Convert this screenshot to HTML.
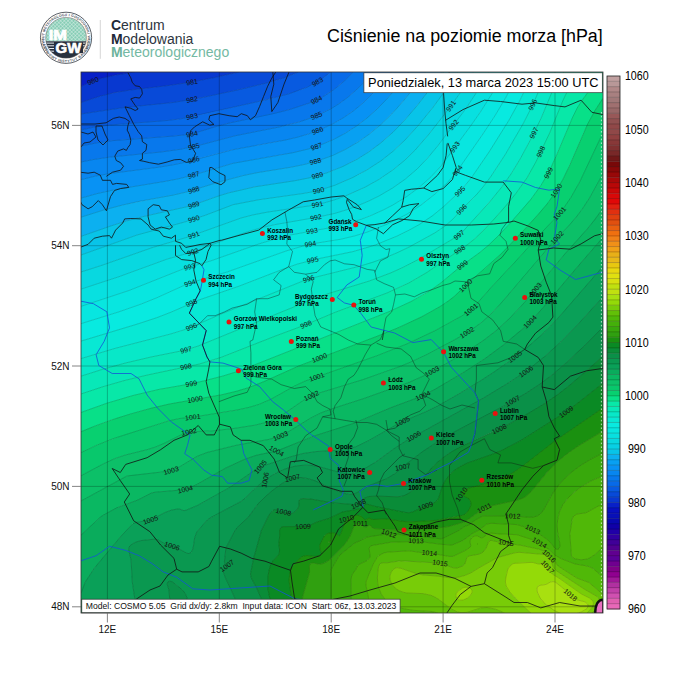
<!DOCTYPE html>
<html><head><meta charset="utf-8"><style>
html,body{margin:0;padding:0;background:#fff;width:689px;height:689px;overflow:hidden}
svg{position:absolute;left:0;top:0;font-family:"Liberation Sans",sans-serif}
</style></head><body>
<svg width="689" height="689" viewBox="0 0 689 689">
<defs><clipPath id="mc"><rect x="81" y="72" width="522" height="541"/></clipPath></defs>
<defs><clipPath id="lc"><circle cx="66.05" cy="37.8" r="20.4"/></clipPath><pattern id="hatch" width="2.6" height="2.6" patternUnits="userSpaceOnUse" patternTransform="rotate(45)"><rect width="2.6" height="2.6" fill="#86cdb5"/><path d="M0 0H2.6M0 0V2.6" stroke="#e4f3ee" stroke-width="0.8"/></pattern></defs><circle cx="66.05" cy="37.8" r="25.6" fill="#fff" stroke="#4a4f57" stroke-width="0.9"/><g font-size="3.6" font-weight="700" fill="#555c66" text-anchor="middle"><text transform="translate(47.46 51.34) rotate(-126.1)" y="1.3">I</text><text transform="translate(46.31 49.60) rotate(-120.9)" y="1.3">N</text><text transform="translate(45.03 47.14) rotate(-113.9)" y="1.3">S</text><text transform="translate(44.12 44.72) rotate(-107.5)" y="1.3">T</text><text transform="translate(43.48 42.22) rotate(-101.1)" y="1.3">Y</text><text transform="translate(43.13 39.67) rotate(-94.7)" y="1.3">T</text><text transform="translate(43.06 36.99) rotate(-88.0)" y="1.3">U</text><text transform="translate(43.31 34.33) rotate(-81.3)" y="1.3">T</text><text transform="translate(44.31 30.29) rotate(-71.0)" y="1.3">M</text><text transform="translate(45.46 27.55) rotate(-63.5)" y="1.3">E</text><text transform="translate(46.74 25.31) rotate(-57.1)" y="1.3">T</text><text transform="translate(48.26 23.23) rotate(-50.7)" y="1.3">E</text><text transform="translate(50.22 21.12) rotate(-43.5)" y="1.3">O</text><text transform="translate(52.51 19.21) rotate(-36.1)" y="1.3">R</text><text transform="translate(55.02 17.62) rotate(-28.7)" y="1.3">O</text><text transform="translate(57.53 16.43) rotate(-21.7)" y="1.3">L</text><text transform="translate(60.17 15.56) rotate(-14.8)" y="1.3">O</text><text transform="translate(63.19 14.98) rotate(-7.1)" y="1.3">G</text><text transform="translate(65.37 14.81) rotate(-1.7)" y="1.3">I</text><text transform="translate(66.65 14.81) rotate(1.5)" y="1.3">I</text><text transform="translate(69.20 15.02) rotate(7.9)" y="1.3">I</text><text transform="translate(72.58 15.75) rotate(16.5)" y="1.3">G</text><text transform="translate(75.46 16.81) rotate(24.2)" y="1.3">O</text><text transform="translate(78.01 18.15) rotate(31.3)" y="1.3">S</text><text transform="translate(80.21 19.68) rotate(38.0)" y="1.3">P</text><text transform="translate(82.37 21.59) rotate(45.2)" y="1.3">O</text><text transform="translate(84.32 23.83) rotate(52.6)" y="1.3">D</text><text transform="translate(85.93 26.23) rotate(59.8)" y="1.3">A</text><text transform="translate(87.22 28.80) rotate(67.0)" y="1.3">R</text><text transform="translate(88.17 31.51) rotate(74.1)" y="1.3">K</text><text transform="translate(88.65 33.54) rotate(79.3)" y="1.3">I</text><text transform="translate(89.04 37.27) rotate(88.7)" y="1.3">W</text><text transform="translate(88.87 40.64) rotate(97.1)" y="1.3">O</text><text transform="translate(88.32 43.57) rotate(104.5)" y="1.3">D</text><text transform="translate(87.42 46.30) rotate(111.7)" y="1.3">N</text><text transform="translate(86.24 48.82) rotate(118.6)" y="1.3">E</text><text transform="translate(84.93 50.93) rotate(124.8)" y="1.3">J</text></g><g font-size="3.6" font-weight="700" fill="#555c66" text-anchor="middle"><text transform="translate(42.82 39.56) rotate(85.7)" y="1.3">P</text><text transform="translate(43.19 42.31) rotate(78.8)" y="1.3">A</text><text transform="translate(43.92 45.10) rotate(71.7)" y="1.3">Ń</text><text transform="translate(44.95 47.68) rotate(64.9)" y="1.3">S</text><text transform="translate(46.17 49.95) rotate(58.6)" y="1.3">T</text><text transform="translate(47.94 52.46) rotate(51.0)" y="1.3">W</text><text transform="translate(50.25 54.93) rotate(42.7)" y="1.3">O</text><text transform="translate(52.89 57.03) rotate(34.4)" y="1.3">W</text><text transform="translate(55.63 58.64) rotate(26.6)" y="1.3">Y</text><text transform="translate(58.64 59.89) rotate(18.5)" y="1.3">I</text><text transform="translate(60.64 60.46) rotate(13.4)" y="1.3">N</text><text transform="translate(63.38 60.95) rotate(6.6)" y="1.3">S</text><text transform="translate(65.95 61.10) rotate(0.2)" y="1.3">T</text><text transform="translate(68.53 60.97) rotate(-6.1)" y="1.3">Y</text><text transform="translate(71.07 60.55) rotate(-12.4)" y="1.3">T</text><text transform="translate(73.65 59.83) rotate(-19.0)" y="1.3">U</text><text transform="translate(76.13 58.81) rotate(-25.6)" y="1.3">T</text><text transform="translate(79.53 56.80) rotate(-35.4)" y="1.3">B</text><text transform="translate(81.77 54.99) rotate(-42.4)" y="1.3">A</text><text transform="translate(83.77 52.92) rotate(-49.5)" y="1.3">D</text><text transform="translate(85.50 50.62) rotate(-56.6)" y="1.3">A</text><text transform="translate(87.11 47.77) rotate(-64.7)" y="1.3">W</text><text transform="translate(88.30 44.72) rotate(-72.7)" y="1.3">C</text><text transform="translate(88.95 42.12) rotate(-79.3)" y="1.3">Z</text><text transform="translate(89.28 39.56) rotate(-85.7)" y="1.3">Y</text></g><g clip-path="url(#lc)"><rect x="45.65" y="17.4" width="40.8" height="23.9" fill="url(#hatch)"/><rect x="45.65" y="41.3" width="40.8" height="16.9" fill="#27303d"/><rect x="45.65" y="42.6" width="40.8" height="1.0" fill="#e6ecef"/><rect x="45.65" y="45.3" width="40.8" height="1.0" fill="#e6ecef"/><rect x="45.65" y="48.0" width="40.8" height="1.0" fill="#e6ecef"/><rect x="45.65" y="50.7" width="40.8" height="1.0" fill="#e6ecef"/></g><circle cx="66.05" cy="37.8" r="20.4" fill="none" stroke="#555" stroke-width="0.5"/><text x="48.8" y="39.9" font-size="14.6" font-weight="700" fill="#fff" stroke="#fff" stroke-width="0.7" textLength="18.2" lengthAdjust="spacingAndGlyphs">IM</text><rect x="54" y="42" width="29" height="11.2" fill="#27303d"/><text x="55.6" y="53.2" font-size="14.6" font-weight="700" fill="#fff" stroke="#fff" stroke-width="0.7" textLength="25.6" lengthAdjust="spacingAndGlyphs">GW</text>
<path d="M100.3 20V58.8" stroke="#ccc" stroke-width="0.8"/><text x="110.9" y="30.3" font-size="14" fill="#2d3540"><tspan font-weight="700" fill="#1f2a38">C</tspan>entrum</text><text x="110.9" y="43.5" font-size="14" fill="#2d3540"><tspan font-weight="700" fill="#1f2a38">M</tspan>odelowania</text><text x="110.9" y="56.7" font-size="14" fill="#74b9a3"><tspan font-weight="700" fill="#6cb39c">M</tspan>eteorologicznego</text><text x="327" y="41.8" font-size="17.85" fill="#000">Ciśnienie na poziomie morza [hPa]</text>
<g clip-path="url(#mc)"><path fill="#0820c8" stroke="#0820c8" stroke-width="0.7" d="M81 72 134.6 72 115 75.2 101 78.4 93 81 81 86.5 81 72Z"/><path fill="#0838d0" stroke="#0838d0" stroke-width="0.7" d="M121.8 74 134.6 72 239.1 72 213 77.9 189 82.5 167 85.7 129 90.2 115 92.5 101 95.9 81 102.5 81 86.5 97 79.6 109 76.5 121.8 74Z"/><path fill="#084ad8" stroke="#084ad8" stroke-width="0.7" d="M230.8 74 239.1 72 298.6 72 285 77.4 267 82.9 219.3 94 185 100.7 165 103.5 121 107.9 81 114 81 102.5 105 94.7 125 90.8 169 85.5 189 82.5 209 78.8 230.8 74Z"/><path fill="#085ae0" stroke="#085ae0" stroke-width="0.7" d="M294.1 74 298.6 72 330.8 72 320.6 80 309.9 86 295 91.9 279 96.6 203 114.2 181 118.8 167 120.5 111 124.9 93 127.3 81 130 81 114 119 108.2 169 103.1 195 98.9 227 92.3 261 84.4 279 79.4 294.1 74Z"/><path fill="#086ae8" stroke="#086ae8" stroke-width="0.7" d="M328.5 74 330.8 72 353.4 72 347.4 78 335 88.7 323 96.6 309 103.2 293 108.6 275 113.2 227 123.6 191 134.2 173 136.1 113 140.6 97 142.8 81 146 81 130 93 127.3 111 124.9 177 119.4 203 114.2 271 98.7 293 92.6 303 89 313 84.5 320.6 80 328.5 74Z"/><path fill="#0878ec" stroke="#0878ec" stroke-width="0.7" d="M351.4 74 353.4 72 373.1 72 358.3 88 345 99.4 333 107.5 319 114.6 303 120.7 281 126.6 233 136.2 201 144.8 183 148.8 163 151.8 109 157.2 93 159.6 81 162 81 146 97 142.8 113 140.6 173 136.1 191 134.2 215 126.9 229 123.1 287 110.3 307 104 315 100.7 323 96.6 330.4 92 337 87.2 345 80.3 351.4 74Z"/><path fill="#0886f0" stroke="#0886f0" stroke-width="0.7" d="M371.4 74 373.1 72 391.4 72 381 84.7 371 95.4 357.1 108 343 118 329 125.7 313 132.3 301 136.2 287 139.7 231 150.1 177 164.1 159 167.2 109 173.7 95 176.2 81 179.6 81 162 93 159.6 109 157.2 163 151.8 183 148.8 201 144.8 235 135.8 287 125.2 299 122 309 118.6 319 114.6 327 110.8 341.5 102 349 96.3 356.2 90 364.2 82 371.4 74Z"/><path fill="#0892f4" stroke="#0892f4" stroke-width="0.7" d="M389.8 74 391.4 72 408.7 72 396.4 88 384.1 102 369.4 116 355 127.1 339 136.7 323 144 311 148.2 293 152.7 233 163.3 195 174.6 181 178.2 165 181.4 115 189.6 97 193.6 81 198.1 81 179.6 95 176.2 109 173.7 159 167.2 177 164.1 233 149.7 277 141.7 293 138.3 307 134.4 319 130 329 125.7 339 120.4 349 114.1 357 108.1 365 101.2 373 93.4 381.6 84 389.8 74Z"/><path fill="#08a0f2" stroke="#08a0f2" stroke-width="0.7" d="M408.7 72 425.4 72 411 91.6 397.2 108 383 122.5 367 135.8 351 146.3 335 154.4 321 159.7 305 164.3 291 167.2 257 172.7 243 175.6 219 182 187 191.9 173 195.1 139 201.4 123 204.9 103.7 210 81 217.2 81 198.1 81.4 198 97 193.6 115 189.6 165 181.4 181 178.2 193 175.2 235 162.8 281 155 297 151.8 315 147 329 141.5 341 135.6 351 129.7 361 122.8 371 114.6 380.2 106 389.6 96 399 84.8 408.7 72Z"/><path fill="#0cb0f0" stroke="#0cb0f0" stroke-width="0.7" d="M424 74 425.4 72 441.7 72 426.2 94 410.1 114 395 130.3 379 144.4 363 155.7 345 165.5 327 172.8 309 177.9 295 180.7 255 186.8 229 192.8 219 195.8 191 205.8 143 216.6 127 220.8 110.7 226 81 236.4 81 217.2 89 214.6 107 209 125 204.4 185 192.4 219 182 243 175.6 257 172.7 291 167.2 305 164.3 323 159.1 339 152.6 351 146.3 361.1 140 372 132 383 122.5 393 112.6 403 101.4 413.8 88 424 74Z"/><path fill="#08c4e8" stroke="#08c4e8" stroke-width="0.7" d="M440.4 74 441.7 72 457.7 72 441 96.7 421 122.2 405 140 389.8 154 381 160.8 373 166.2 355 176.4 335 185.2 317 191 303 193.5 259 199.7 233 204.7 205 215.4 185 221.9 137 235 81 255 81 236.4 109 226.6 137 218.1 193 205.2 221 195.1 239 190.2 257 186.5 297 180.3 313 176.9 331 171.4 349 163.6 361 156.9 373 149 384.4 140 395 130.3 406.6 118 418.4 104 429.2 90 440.4 74Z"/><path fill="#08d0e4" stroke="#08d0e4" stroke-width="0.7" d="M456.4 74 457.7 72 473.4 72 455.2 100 433.9 128 417 148 402.7 162 387 174.2 377 180.6 367.4 186 357 191.1 345 196.1 334.1 200 323 203.2 311 205.6 267 212.2 253 214.9 241 218 189 236.7 153 247.4 101 265.6 81 272 81 255 129 237.7 143 233.1 185 221.9 205 215.4 229 206 235 204.2 259 199.7 305 193.2 320.7 190 341 182.8 359 174.4 373 166.2 384.7 158 396.7 148 407 138 419 124.6 433 107.3 445 91.1 456.4 74Z"/><path fill="#08d8e0" stroke="#08d8e0" stroke-width="0.7" d="M472.2 74 473.4 72 489 72 474.4 96 458.9 118 433 151.7 420.2 166 411 174.4 401.4 182 391 189 381 194.9 371 200 359 205.3 349 209 337 212.8 319 216.9 275 224.6 261 227.9 249 231.3 229 238.2 195 251.3 167 259.1 119 276.7 81 289.1 81 272 101 265.6 153 247.4 189 236.7 241 218 251 215.4 265 212.5 311 205.6 325 202.7 337 199 349 194.5 361 189.2 371 184 383 176.9 395.4 168 407 158.1 417 148 430.7 132 449.4 108 460.7 92 472.2 74Z"/><path fill="#08e0e0" stroke="#08e0e0" stroke-width="0.7" d="M489 72 504.2 72 489 98.7 473.5 122 445 161 433.8 174 425.5 182 415.8 190 405 197.7 395 203.8 377 212.9 357 220.6 335 226.6 291 234.9 264.9 242 211 260.8 183 269 129 290.5 81 306.4 81 289.1 119 276.7 167 259.1 195 251.3 231 237.5 253 230.1 279 223.8 325 215.7 343 211 355 206.8 365 202.7 375 198 385 192.6 397 185.1 409 176.1 419 167.1 429 156.5 439 144.1 466.2 108 477 91.9 489 72Z"/><path fill="#08e6e0" stroke="#08e6e0" stroke-width="0.7" d="M504.2 72 519.1 72 503 102.4 495 115.7 485 131 459.5 168 449 180.9 439.7 190 429 199.1 419 206.5 409 212.9 399 218.5 389 223.4 378.3 228 367 232.2 355 235.8 341 239.2 309 244.3 287 250.7 227 272 191 282.7 182.7 286 157 297.7 141 304.1 119 311.8 81 323.7 81 306.4 129 290.5 183 269 211 260.8 264.9 242 291 234.9 335 226.6 357 220.6 369 216.3 379 212 398.1 202 410.4 194 421 185.9 431.8 176 441 166 470.6 126 480.4 112 491.8 94 504.2 72Z"/><path fill="#08eae0" stroke="#08eae0" stroke-width="0.7" d="M518 74 519.1 72 533.6 72 514.8 110 505 126.8 491 149 473 175.6 461 190.4 439 210.7 431 216.9 421 223.5 411 229.2 399 235.2 387 240.5 375 245.1 353 251.6 317 259 297 264.2 283 269.2 239 286.2 198.9 300 171 312.2 157 317.6 137.6 324 81 341.1 81 323.7 119 311.8 141 304.1 157 297.7 182.7 286 191 282.7 227 272 287 250.7 309 244.3 341 239.2 355 235.8 367 232.2 378.3 228 389 223.4 400 218 411 211.7 425 202.2 437 192.4 447.9 182 456.5 172 483 133.9 495 115.7 505.5 98 518 74Z"/><path fill="#08e8d4" stroke="#08e8d4" stroke-width="0.7" d="M532.5 74 533.6 72 548.1 72 541.8 84 533 104.3 528.3 114 519 131.2 507 151.7 491.2 176 483.8 186 477.1 194 461.1 210 451 221 445 226.1 437 231.5 425 238.6 411 246.1 397 252.8 385 257.8 373 262.2 359 266.4 315 277.3 305 280.2 221.2 314 193 326.3 183.6 330 170.6 334 115 348.4 81 358.6 81 341.1 137.6 324 157 317.6 171 312.2 198.9 300 239 286.2 283 269.2 297 264.2 317 259 353 251.6 375 245.1 387 240.5 399 235.2 411 229.2 423.4 222 437.4 212 457 194.4 464.9 186 472.7 176 491 149 509.1 120 519.1 102 532.5 74Z"/><path fill="#08e8c8" stroke="#08e8c8" stroke-width="0.7" d="M547 74 548.1 72 563.9 72 558.4 80 553.9 88 538.4 124 521.8 156 509.6 176 496.3 194 465 229.2 460.2 234 457 236.4 417 260.2 403 267.4 391 272.8 369 281.1 329 293.4 315 298.3 198.2 346 185 350.2 151 357 125 363.1 103 369.2 81 376.2 81 358.6 115 348.4 169 334.4 181 330.9 191 327.2 221.2 314 305 280.2 315 277.3 357 267 379 260.1 393 254.6 409 247.1 425 238.6 439.4 230 445.1 226 451 221 461.1 210 473.4 198 483.8 186 494 172 508.1 150 524.1 122 531.3 108 540.8 86 547 74Z"/><path fill="#08e8b8" stroke="#08e8b8" stroke-width="0.7" d="M562.4 74 563.9 72 582.6 72 570 88 566 94 562.3 102 551.8 128 545.5 142 533.9 166 524.2 182 515.5 194 505.7 206 491.4 222 477.8 236 467 245 431 269.7 411 281.8 389 292.2 373 298.5 335 312.4 305 325 275 336.2 221 357.4 199 364.1 147 375.1 125 380.4 103 386.7 81 394 81 376.2 103 369.2 125 363.1 151 357 185 350.2 198.2 346 315 298.3 329 293.4 369 281.1 391 272.8 403 267.4 417 260.2 457 236.4 464.2 230 491.3 200 502.5 186 512.3 172 521 157.4 533 135 541.2 118 552.9 90 557 82.3 562.4 74Z"/><path fill="#08e8a8" stroke="#08e8a8" stroke-width="0.7" d="M582.6 72 602.9 72 582.3 100 577.2 108 571.4 120 549.9 170 544.4 180 537.9 190 529 201.7 518.5 214 503 230.9 491 242.9 481 251.6 461.1 266 443 281.2 431.1 290 413 300.6 391 310.9 239 371 223 376 203 381.1 191 383.8 159 389.4 133 395.5 107 403.2 81 412.5 81 394 103 386.7 125 380.4 147 375.1 199 364.1 211 360.8 223 356.7 275 336.2 305 325 335 312.4 373 298.5 389 292.2 401 286.8 413 280.7 433 268.4 467 245 475.7 238 485.8 228 498.7 214 517.1 192 528.1 176 535.9 162 550.1 132 563 100.3 566 94 570 88 582.6 72Z"/><path fill="#08e088" stroke="#08e088" stroke-width="0.7" d="M602.9 72 603 98.3 596.5 108 589.8 120 584 132 565.6 174 559.2 186 553 196 547.1 204 540.4 212 505 250 493 261.4 469.3 282 455 295.8 445 303.4 435 309.6 425 315.1 399 327.4 377 336.3 299 365.9 263 382 251 386.8 239 390.6 225 394 169 404.1 147 409.3 111 420.1 95 426 81 431.8 81 412.5 107 403.2 133 395.5 159 389.4 191 383.8 203 381.1 223 376 239 371 391 310.9 415 299.6 425 293.9 433 288.7 443 281.2 461.1 266 481 251.6 489.8 244 500.1 234 511.3 222 531.9 198 541 185.4 548.9 172 556.2 156 572.3 118 577.2 108 582.3 100 602.9 72Z"/><path fill="#08d070" stroke="#08d070" stroke-width="0.7" d="M601.7 100 603 98.3 603 132.7 581.7 178 575.3 190 569.3 200 563 209.2 557.4 216 540.2 234 517 259.9 490.7 288 475 305.8 471 309.7 467 312.7 457 318.8 441 327.6 409 343 379 355 305 381.1 294.6 386 271 399.2 259 404.4 249 407.4 237 410 195 416.8 179 418.6 169 420.8 113 438.7 97 445.1 81 452.6 81 431.8 90 428 117.4 418 151.9 408 169 404.1 223 394.5 237 391.1 249 387.5 263 382 299 365.9 377 336.3 399 327.4 425 315.1 435 309.6 445 303.4 455 295.8 469.3 282 491 263.2 503 252 535 218 548.7 202 556.8 190 563.6 178 569.4 166 587.7 124 594.1 112 601.7 100Z"/><path fill="#08c86c" stroke="#08c86c" stroke-width="0.7" d="M602.4 134 603 132.7 603 173.7 594.2 190 585.7 204 579 213.5 573 221 554.9 240 523 277.9 498.5 306 485 319.6 473 328.7 459 337.3 441 347.3 421 357.3 405 364.5 389 370.6 365 378.9 317 393.7 311 395.9 303 400.6 281 415.8 275 419.1 269 421.6 255 425.2 233 428.6 213 430.8 191 431.8 187 432.5 181 434.8 165 443 155 447.2 147 449.7 125 455.1 115 458.5 103.1 464 81 475.8 81 452.6 101 443.4 121 435.9 172.1 420 181 418.2 195 416.8 235 410.4 249 407.4 259 404.4 271 399.2 294.6 386 305 381.1 379 355 409 343 439 328.6 454.9 320 465 314 470.6 310 475 305.8 490.7 288 517 259.9 542.1 232 557.4 216 562.4 210 571 197.3 579.7 182 602.4 134Z"/><path fill="#0cc068" stroke="#0cc068" stroke-width="0.7" d="M602.8 174 603 208.2 594.5 220 584.7 232 563 256.1 528.3 298 513.9 314 503.7 324 493 333.3 481.3 342 469 350.2 445 364.3 417 379 399 386.1 361 399.5 331 409.1 321 412.9 311 417.9 288 432 279 436.6 269 439.4 237 445.1 207 452.5 197 456.4 179 467.2 171 470.6 163 471.9 127 476 81 501 81 475.8 99.2 466 111.5 460 125 455.1 147 449.7 155 447.2 165 443 181 434.8 189 432 211 431 231 428.8 255 425.2 269 421.6 275 419.1 281 415.8 303 400.6 311 395.9 317 393.7 363 379.6 387 371.3 403 365.3 419 358.3 437 349.3 455 339.6 469 331.3 482.1 322 494.8 310 519 282.6 554.9 240 573.8 220 581.6 210 588.2 200 595.3 188 602.8 174Z"/><path fill="#0ab862" stroke="#0ab862" stroke-width="0.7" d="M601.8 210 603 208.2 603 237.4 602.5 238 576.5 268 544.6 306 529 322.8 516.8 334 499.5 348 485 358.6 469 369.1 437.3 388 423 395.7 391 407.6 357 422.1 345 426.4 311 437.1 279 450.2 273 451.8 257 455.1 245 459.1 225.8 468 197 484.4 189 488.1 181 490 153 492.6 149.3 494 137.9 500 119 506.8 101.9 516 81 535.1 81 501 125 476.9 129 475.6 163 471.9 171 470.6 179 467.2 197 456.4 207 452.5 237 445.1 269 439.4 279 436.6 288 432 311 417.9 321 412.9 331 409.1 361 399.5 399 386.1 417 379 443 365.4 467 351.4 481 342.2 493 333.3 503.7 324 515 312.9 530 296 564.8 254 588.1 228 601.8 210Z"/><path fill="#0aac5c" stroke="#0aac5c" stroke-width="0.7" d="M602.5 238 603 237.4 603 266.4 563.5 312 544.6 332 536 340 526.4 348 495 371.4 472.1 386 441 404.1 425 412.1 401 422.2 369 440.4 359 445.5 351 448.3 343 450 317 451.5 303 453.5 291 456.7 265 465.3 259 467.7 255 470 231 486.7 197 505.7 185 510.6 183 510.5 179 508.8 171.8 510 165 512.5 151 519.8 145 521.1 137 522.1 133 523.6 121.2 536 94.5 568 85.3 582 81 593.4 81 535.1 101.9 516 117 507.7 137.9 500 149.3 494 153 492.6 181 490 189 488.1 197 484.4 225.8 468 245 459.1 257 455.1 277 450.8 313 436.4 351 424.3 363 419.6 391 407.6 421 396.5 431 391.6 461 374 483 360 502.1 346 521 330.3 531.8 320 542.8 308 576.5 268 602.5 238Z"/><path fill="#0aa058" stroke="#0aa058" stroke-width="0.7" d="M601.6 268 603 266.4 603 296.8 576.4 326 558.6 344 539 361.4 521 374.8 500.3 388 480 400 407.4 440 395.1 448 373 463.8 365 468.6 359 471.5 351 473.8 345 473.7 339 472.4 319 466.6 311 465.4 305 465.2 297 465.8 291 467.1 283 469.8 275 473.6 268 478 260 484 253.3 490 245 498.3 241 501.5 211 517.4 207.2 520 196.8 532 194.6 538 193.5 546 192.5 550 191 552.5 189 553.6 187 553.3 177.2 548 165 543.9 158.3 540 155 539.1 141 540.6 137 541.7 133 543.5 129.8 546 128.8 548 128.7 550 131.1 560 132.3 582 135 600 134.2 614 81 614 81 593.4 83.5 586 86.4 580 96.1 566 121.2 536 133 523.6 137 522.1 145 521.1 151 519.8 165 512.5 171.8 510 179 508.8 183 510.5 185 510.6 197 505.7 231 486.7 255 470 259 467.7 265 465.3 291 456.7 303 453.5 317 451.5 343 450 351 448.3 357 446.3 369 440.4 401 422.2 425 412.1 441 404.1 469 387.9 493 372.7 508.1 362 533 342.6 544.6 332 557 319.2 601.6 268Z"/><path fill="#0a9850" stroke="#0a9850" stroke-width="0.7" d="M601.9 298 603 296.8 603 327 578 352 558.1 370 541 383.4 523 395 493 411.9 451 433.7 435 443.2 416.8 456 395 473.6 391 476.3 383.8 480 367 486.5 357 492.7 353 494.4 347 494.1 341 492.3 319 482.4 311 479.4 305 478 299 477.4 293 477.9 287 480.4 279 485.6 268.3 494 257 505 249 516.3 236.8 528 234.2 532 225.9 548 224.4 562 226.4 566 223.2 570 223.3 572 225.5 578 237.7 604 238.3 608 237.3 614 134.2 614 135 600 132.3 582 131.1 560 128.7 550 128.8 548 129.8 546 132.2 544 136.2 542 141 540.6 155 539.1 158.3 540 165 543.9 177.2 548 187 553.3 189 553.6 191 552.5 192.5 550 193.5 546 194.6 538 196.8 532 207.2 520 211 517.4 241 501.5 245 498.3 253.3 490 261 483.2 271 476 278.1 472 285 469 291 467.1 297 465.8 305 465.2 311 465.4 319 466.6 341 472.9 347 473.9 351 473.8 355 473 363 469.6 375 462.5 395.1 448 407 440.3 483.5 398 506.7 384 527 370.7 545 356.3 560.7 342 578.3 324 601.9 298ZM169 581.2 167.9 582 167.1 584 169 590 169.6 598 171 601.5 173 603.7 177 606 181 606.5 183.2 606 185.8 604 187 601.6 187.1 598 185.5 594 182.3 590 175.4 584 172.5 582 169 581.2Z"/><path fill="#0a9048" stroke="#0a9048" stroke-width="0.7" d="M602 328 603 327 603 356 577 379.2 565 389.1 555 396.6 544 404 531 411.9 503 427.1 461 446.6 447 454.8 440.1 460 433.6 466 415 487.9 411 491.6 407 494.4 403 496 397 496.8 377 496.1 369 496.5 365 497.9 363 499.2 358 504 355 504.6 333 502.9 311 499.1 303 498.6 301 499 299.2 500 298.9 506 298.1 508 295 511.9 293 513.2 291 513.7 279 511.4 277 510.8 275 509.4 273 510.4 269 515 261.6 530 253.7 558 250.5 574 251.3 578 256.7 588 261.9 600 262 614 237.3 614 238.3 608 237.7 604 225.5 578 223.3 572 223.2 570 226.4 566 224.4 562 225.9 548 234.2 532 236.8 528 249 516.3 257.9 504 267 495.1 273 490.1 281.3 484 289 479.4 295 477.6 301 477.5 307 478.4 315 480.8 335.2 490 343 493 349 494.5 353 494.4 357 492.7 367 486.5 387 478.5 395 473.6 406.4 464 422.1 452 439 440.7 454.2 432 503 406.4 525 393.8 539 384.8 553 374.2 567.2 362 584.2 346 602 328ZM167.9 582 169 581.2 171 581.4 173 582.3 180.1 588 184.1 592 185.5 594 187.1 598 186.9 602 185 604.8 183 606.1 181 606.5 177 606 173 603.7 171 601.5 169.6 598 169 590 167.1 584 167.9 582Z"/><path fill="#0a8c38" stroke="#0a8c38" stroke-width="0.7" d="M603 356 603 383.1 579.2 402 565.9 412 521 440.4 503 449.8 493 454 467 463.2 461 466.1 455 469.9 450.3 474 445.5 480 442.5 486 438.6 498 437 500.7 433 503.7 425 506.2 413 511.8 409 512.8 405 512.4 375 506.4 367 504.1 365 504.6 361 508 359 509 342.4 512 329 518.4 317 522 309 525.8 305 526.5 283 526.7 281 527.4 279.6 530 279.7 536 278.8 544 279.6 550 279.2 554 273 560.8 271 564 269 570.3 268.1 576 268.1 590 270.2 600 275.1 614 262 614 261.9 600 256.7 588 251.3 578 250.5 574 253.7 558 261.6 530 269 515 273 510.4 275 509.4 277 510.8 279 511.4 291 513.7 293 513.2 295 511.9 298.1 508 298.9 506 299.2 500 301 499 303 498.6 311 499.1 333 502.9 355 504.6 358 504 363 499.2 365 497.9 369 496.5 377 496.1 397 496.8 401 496.4 405 495.3 409 493.1 413 489.9 418.5 484 431.7 468 437.8 462 445.3 456 453 451 461 446.6 493 432 511 423 529 413 544 404 557 395.1 568.8 386 585.3 372 603 356Z"/><path fill="#0a8a24" stroke="#0a8a24" stroke-width="0.7" d="M601.9 384 603 383.1 603 408 555 440.9 523 465.9 513 472.7 505 476.8 497 480 481 485.2 467 488.6 465 489.4 463 491 462.3 492 461.9 494 463.7 496 469 498.7 470.8 502 471 503.7 470.7 506 468.9 510 465 514.4 461 515.7 455 516.5 437 520.3 411 521.8 405 521.6 387 519 373 519.5 369 518.1 365 519.9 361 516.1 357 515.1 352 516 347.7 518 345.8 520 341 533.1 339 536.5 336.9 534 333 532.7 329 533.1 327 533.8 324.4 536 320.2 544 319.6 546 320.1 550 321.8 554 321 554.7 318 556 315 556.4 307 555.5 303 556.2 300.1 558 292.5 566 290.5 570 289 580 291.7 600 290.9 608 291.1 614 275.1 614 270.2 600 268.1 590 268.1 576 269 570.3 271 564 273 560.8 279.2 554 279.6 550 278.8 544 279.7 536 279.6 530 281 527.4 283 526.7 305 526.5 309 525.8 317 522 329 518.4 342.4 512 359 509 361 508 365 504.6 367 504.1 375 506.4 405 512.4 409 512.8 413 511.8 425 506.2 433 503.7 437 500.7 438.6 498 442.5 486 445.5 480 450.3 474 455 469.9 461 466.1 467 463.2 493 454 503 449.8 521 440.4 565.9 412 579.2 402 601.9 384Z"/><path fill="#1a9010" stroke="#1a9010" stroke-width="0.7" d="M600.1 410 603 408 603 431 579 445.5 569 452.4 561 458.7 553 465.9 547.2 472 530.9 492 527 495.6 523 498.2 517 500.3 487 506.8 483 508.7 465 521.7 449 526.5 431 528.8 401 530.3 389 529.2 375 528.7 372.4 528 371 525.7 369 525.2 367 526.7 365 527.4 363 526.4 361 524.5 359 523.4 355.9 524 354.1 526 350.2 536 346.5 542 341.5 548 331 558.6 327 561.6 323 563.6 319 564.2 313 562.9 311 563.3 310.1 564 309.4 566 309.6 572 302.9 596 302.2 600 303 605.2 306 614 291.1 614 290.9 608 291.7 600 289 580 290 572 291.2 568 293 565.4 300.1 558 303 556.2 307 555.5 315 556.4 318 556 321 554.7 321.8 554 320.1 550 319.6 546 320.2 544 324.4 536 327 533.8 329 533.1 333 532.7 336.9 534 339 536.5 341 533.1 345.8 520 347.7 518 352 516 357 515.1 361 516.1 365 519.9 369 518.1 373 519.5 387 519 405 521.6 411 521.8 437 520.3 463 515.2 465.5 514 468.9 510 470.7 506 471 504 470.8 502 469 498.7 463.7 496 461.9 494 462.3 492 464.1 490 468.9 488 481 485.2 495 480.7 505 476.8 513 472.7 523 465.9 553.5 442 600.1 410ZM329 541.3 328.6 542 329 542.5 329.6 542 329 541.3ZM331 539.7 330.1 540 331 540.7 331.3 540 331 539.7Z"/><path fill="#30a010" stroke="#30a010" stroke-width="0.7" d="M601.2 432 603 431 603 453 591 459.1 581 465.2 573 471 565.1 478 559.5 484 555 489.8 551.1 496 543 510.9 539 515 535 516.7 529 517.3 515 516 483 515.8 475 520.2 469 525 465 526.2 459 530.3 443.6 538 441 538.9 411 535.1 403 535 399 534.3 395 534.3 389 533.7 375 536.1 369 536.5 365 537.7 361 540.3 355 542.9 341 554 339 556.1 330.9 570 330.5 574 331.1 580 330.9 606 332 614 306 614 303 605.2 302.2 600 302.9 596 309.6 572 309.4 566 310.1 564 311 563.3 313 562.9 319 564.2 323 563.6 327 561.6 331 558.6 341.5 548 346.5 542 350.2 536 354.1 526 355.9 524 359 523.4 361 524.5 363 526.4 365 527.4 367 526.7 369 525.2 371 525.7 372.4 528 375 528.7 403 530.3 431 528.8 449 526.5 465 521.7 485 507.6 489 506.3 518 500 525 497.1 531 491.8 549 470 559.5 460 567 453.9 577 446.8 601.2 432ZM330.1 540 331.3 540 331 540.7 330.1 540ZM328.6 542 329 541.3 329.6 542 329 542.5 328.6 542Z"/><path fill="#38a80c" stroke="#38a80c" stroke-width="0.7" d="M600.9 454 603 453 603 475.8 595 479 589 482 581 487 575 491.5 566.3 500 563 504.4 560.1 510 558.2 516 557.2 524 557.8 534 559.9 544 560 546 559 548.7 557 549.6 555 548.4 550 542 547.9 540 533 529.5 517 524.6 491 523.3 486.8 524 479.1 530 473 533 463 540.4 453 544.7 451 545 441 544.3 415 540.9 407 541.7 391 542.2 371 545.7 369.1 548 370.1 556 369.6 558 367 560.6 359.9 564 357.5 566 355.6 570 353 573.2 351.6 576 351.1 580 351.3 600 352.8 608 355 614 332 614 330.9 606 331.1 580 330.5 574 330.9 570 339.1 556 341 554 355 542.9 361 540.3 367 537 389 533.7 395 534.3 399 534.3 403 535 411 535.1 441 538.9 443.6 538 459 530.3 465 526.2 469 525 475 520.2 483 515.8 515 516 529 517.3 533 517.1 537 516.1 540.3 514 543 510.9 553.5 492 559 484.6 565.1 478 573 471 581 465.2 591 459.1 600.9 454Z"/><path fill="#44b00a" stroke="#44b00a" stroke-width="0.7" d="M602.3 476 603 475.8 603 504.8 598.4 506 587 512.3 585 513 577 514 573.7 516 572.5 518 572.1 520 569.9 534 571.4 556 573 557.9 575 558.8 581 559.8 587 559.1 591 557.2 595 554.5 603 547.2 603 578.4 599 573.5 593 568.5 589 566.6 585 565.6 575.1 564 561 558.6 555 555.2 549 549.5 541 543.9 533 539.8 517 534.7 499 533.9 491 533 487 534.4 483 537.6 481 537.8 477 535.7 475 535.8 473 536.8 471.6 538 470.3 540 470 542 470.9 546 469.2 548 465 550.6 453 556.4 449 556.4 431 553.1 421 552.5 409 550.8 387 552.2 381 554.2 379 555.5 377 557.7 374.3 562 372.2 566 369.3 574 366.3 580 365.8 582 366.1 586 369.3 602 372.4 608 377.5 614 355 614 352.8 608 351.3 600 351.1 580 351.6 576 353 573.2 355.6 570 357.5 566 359.9 564 367 560.6 369.6 558 370.1 556 369.1 548 371 545.7 391 542.2 407 541.7 415 540.9 441 544.3 451 545 453 544.7 463 540.4 473 533 479.1 530 486.8 524 491 523.3 517 524.6 533 529.5 547.9 540 550 542 555 548.4 557 549.6 559 548.7 560 546 559.6 542 557.6 532 557.2 526 557.6 520 559.4 512 563 504.4 569 496.9 579 488.4 591 480.9 602.3 476ZM476.9 544 477.5 544 476.9 544Z"/><path fill="#50b808" stroke="#50b808" stroke-width="0.7" d="M598.4 506 603 504.8 603 547.2 595 554.5 591 557.2 587 559.1 581 559.8 575 558.8 573 557.9 571.4 556 570 536 570.3 530 573 516.9 575 515 577 514 585 513 587 512.3 598.4 506ZM487.8 534 491 533 493 533 497 533.8 517 534.7 521 535.7 531 539.1 539 542.6 549 549.5 555 555.2 561 558.6 575.1 564 585 565.6 591 567.4 597 571.5 603 578.4 603 594.5 589 582.5 577 578.1 558.1 566 556.4 564 554.6 560 551.9 556 549 553 547 551.9 539 549.2 521 545.3 499 542.1 491 540.3 489 541.1 488.4 542 486.2 548 483 552.1 479 554.2 468.3 556 466.7 558 464.8 564 462.5 566 457.2 568 453 567.8 443.3 564 439 563 405 561 399 561 387 562.8 383 562.7 381 563.2 379.8 564 378.7 566 378 570 377.4 578 377.8 584 379 588.6 381.3 594 384 598 387 601.1 393 605.2 397 606.9 403 608.6 413 610.3 431 611.4 435 612.2 439.7 614 377.5 614 372.4 608 370.2 604 368.7 600 366.1 586 365.8 582 366.3 580 369.3 574 372.2 566 374.3 562 377 557.7 379 555.5 381 554.2 387 552.2 409 550.8 421 552.5 431 553.1 449 556.4 453 556.4 465 550.6 469.2 548 470.9 546 470 542 470.3 540 471.6 538 473 536.8 475 535.8 477 535.7 481 537.8 483 537.6 487.8 534ZM477 543.9 477.5 544 477 543.9ZM601.6 612 603 610.4 603 614 599.6 614 601.6 612Z"/><path fill="#62c008" stroke="#62c008" stroke-width="0.7" d="M488.4 542 489 541.1 491 540.3 499 542.1 521 545.3 541 549.7 549 553 553.4 558 556.4 564 558.1 566 577 578.1 589 582.5 603 594.5 603 610.4 599.6 614 591 614 597 608 598.4 606 599.6 602 599.4 600 598.6 598 596.4 596 585.6 590 557 571.2 555 569.4 553 566.5 550.8 560 548.7 556 547 555.2 543 554.4 519 552.3 515 552.8 497 557.7 479 567.8 471 572.8 465 575.4 459 577 455 577.6 449 577.7 437 576 423 575 415 573.2 401 568.3 397 567.6 395 568.2 392.7 570 391.3 572 389.8 576 390.1 580 391.7 584 395 588 399 590.6 403 592.2 407 593 423 593.6 431 595.3 435 597.1 439 599.6 451 608.9 457 611.8 461 612.6 467 612.4 481 607.9 487 607.5 495 609 501 611.4 505.7 614 439.7 614 435 612.2 431 611.4 413 610.3 405 609.1 397 606.9 391 604.1 387 601.1 383 596.7 380.3 592 378.2 586 377.4 580 378 570 379 565.2 381 563.2 383 562.7 387 562.8 401 560.9 439 563 443.3 564 453 567.8 457 568 462.5 566 464.8 564 466.7 558 468.3 556 479 554.2 483 552.1 486.2 548 488.4 542Z"/><path fill="#78cc08" stroke="#78cc08" stroke-width="0.7" d="M511.1 554 515 552.8 519 552.3 543 554.4 547 555.2 548.7 556 550.8 560 553 566.5 555 569.4 557 571.2 585.6 590 596.4 596 598.6 598 599.4 600 599.6 602 598.4 606 597 608 591 614 586.2 614 591.6 608 592.8 606 593.4 604 593.3 602 592.1 600 589.4 598 581.4 594 559 578.1 552.2 574 550.2 572 547 566.2 545 563.7 543 563.2 539 564.2 533 562.5 531 562.4 517 563.1 513 563.7 509.9 566 508.5 568 507 572 505.4 582 506.2 586 507.1 588 509.8 592 513.3 596 531.8 614 505.7 614 501 611.4 495 609 487 607.5 481 607.9 467 612.4 463 612.7 459 612.3 455 611 451 608.9 439 599.6 435 597.1 431 595.3 423 593.6 407 593 403 592.2 399 590.6 395 588 393.1 586 391 582.7 390.1 580 389.8 576 391.3 572 392.7 570 395 568.2 397 567.6 401 568.3 415 573.2 423 575 437 576 449 577.7 455 577.6 459 577 465 575.4 471 572.8 479 567.8 496.3 558 511.1 554ZM463 587.8 459 590.2 457.1 592 456 594 455.8 596 456.4 598 459 600.2 463 600.1 467.5 598 471 594.6 472.2 592 472 590 470 588 467 587.2 463 587.8Z"/><path fill="#94da08" stroke="#94da08" stroke-width="0.7" d="M512.4 564 517 563.1 531 562.4 533 562.5 539 564.2 543 563.2 545 563.7 547 566.2 550.2 572 552.2 574 559 578.1 581.4 594 589.4 598 592.1 600 593.3 602 593.4 604 592.8 606 591.6 608 586.2 614 574.9 614 581 612.1 587 608.7 588.1 606 587.7 604 585 601.8 577 599.8 575 598.8 571 595.6 565.3 590 555.2 582 553 581.6 551 581.8 547 584 539 585.5 538.2 586 537 588 536.9 590 538 594 541.5 600 547 605.6 557 611.8 563.1 614 531.8 614 511.5 594 508.3 590 506.2 586 505.6 584 505.5 580 507 572 508.5 568 509.9 566 512.4 564ZM462.5 588 465 587.2 467 587.2 470 588 472 590 472.2 592 471 594.6 467.5 598 463 600.1 459 600.2 456.4 598 455.8 596 456 594 457.1 592 462.5 588Z"/><path fill="#a8e010" stroke="#a8e010" stroke-width="0.7" d="M550.4 582 553 581.6 555.2 582 565.3 590 571 595.6 575 598.8 577 599.8 585 601.8 587 603.2 588.1 606 587.6 608 585 610.2 583 611.2 575 614 563.1 614 557.5 612 549 607 543.1 602 540.1 598 537.3 592 537 588 538.2 586 539 585.5 547 584 550.4 582Z"/><path fill="none" stroke="#000" stroke-opacity="0.32" stroke-width="0.5" d="M81 86.5 93 81 101 78.4 115 75.2 134.6 72M81 102.5 101 95.9 115 92.5 129 90.2 167 85.7 189 82.5 213 77.9 239.1 72M81 114 123 107.7 173 102.5 199 98.2 237 90.1 265 83.4 283.4 78 298.6 72M81 130 93 127.3 111 124.9 167 120.5 181 118.8 267 99.6 289 93.8 307 87.3 319 81 330.8 72M81 146 97 142.8 113 140.6 173 136.1 191 134.2 215 126.9 229 123.1 273 113.7 289 109.7 309 103.2 317 99.8 325 95.5 333 90.2 339 85.6 345.3 80 353.4 72M81 162 93 159.6 109 157.2 161 152 181 149.2 201 144.8 235 135.8 279 127 299 122 311 117.9 321 113.7 331 108.7 339 103.7 347 97.9 356.2 90 364.2 82 373.1 72M81 179.6 95 176.2 109 173.7 159 167.2 175 164.5 187 161.8 233 149.7 285 140.1 297 137.3 309 133.8 323 128.4 333 123.7 343 118 353 111.2 363 103 372.4 94 381.6 84 391.4 72M81 198.1 97 193.6 115 189.6 165 181.4 179 178.7 193 175.2 233 163.3 293 152.7 309 148.8 321 144.8 333 139.7 345 133.4 356.5 126 367 118 377 109.1 387.8 98 398 86 408.7 72M81 217.2 103.7 210 123 204.9 139 201.4 173 195.1 187 191.9 219 182 243 175.6 257 172.7 291 167.2 305 164.3 321 159.7 333 155.3 345 149.6 358.1 142 369.4 134 381 124.4 391.7 114 403 101.4 413.8 88 425.4 72M81 236.4 110.7 226 127 220.8 143 216.6 191 205.8 219 195.8 229 192.8 255 186.8 295 180.7 309 177.9 327 172.8 343 166.4 357 159.3 369 151.8 381 142.8 393 132.2 404.8 120 417 105.8 429.2 90 441.7 72M81 255 137 235 185 221.9 205 215.4 233 204.7 259 199.7 303 193.5 317 191 335 185.2 353 177.4 367 169.9 381 160.8 393 151.3 405 140 417.8 126 433 107.3 445.7 90 457.7 72M81 272 101 265.6 153 247.4 189 236.7 241 218 253 214.9 267 212.2 311 205.6 323 203.2 334.1 200 345 196.1 365 187.2 379 179.4 392.8 170 405 160 415.2 150 429 134.1 449.4 108 461 91.6 473.4 72M81 289.1 119 276.7 167 259.1 195 251.3 229 238.2 249 231.3 261 227.9 275 224.6 319 216.9 335 213.3 346 210 357.1 206 369 200.9 379 196 392.6 188 405 179.3 417 169.1 427.7 158 437.6 146 465 109.8 476.9 92 489 72M81 306.4 129 290.5 183 269 211 260.8 259 243.9 275 239 291 234.9 331 227.5 349 223.1 361 219.3 371 215.5 383 210.1 393 204.9 407 196.4 419 187.5 431 176.8 441 166 470.6 126 480.4 112 491.8 94 504.2 72M81 323.7 119 311.8 141 304.1 157 297.7 182.7 286 191 282.7 227 272 287 250.7 309 244.3 341 239.2 355 235.8 367 232.2 387 224.3 407 214.1 421 205.1 435 194.1 447 183 456.5 172 483 133.9 495 115.7 505.5 98 519.1 72M81 341.1 137.6 324 157 317.6 171 312.2 198.9 300 239 286.2 283 269.2 297 264.2 317 259 353 251.6 375 245.1 397 236.1 409 230.2 419 224.7 432.2 216 443 207.2 461 190.4 471.2 178 489 152.1 509.1 120 519 102.1 533.6 72M81 358.6 115 348.4 170.6 334 183.6 330 193 326.3 221.2 314 305 280.2 315 277.3 359 266.4 373 262.2 385 257.8 397 252.8 409 247.1 435 232.8 445.1 226 453 219 461.1 210 477.1 194 483.8 186 491.2 176 505.6 154 523 124 532.2 106 541.8 84 548.1 72M81 376.2 103 369.2 125 363.1 151 357 185 350.2 198.2 346 315 298.3 329 293.4 369 281.1 391 272.8 403 267.4 417 260.2 455 237.7 460.2 234 464.2 230 489.6 202 501 188 511 174 520.7 158 532.5 136 541.2 118 553 89.7 557.2 82 563.9 72M81 394 103 386.7 125 380.4 147 375.1 199 364.1 221 357.4 275 336.2 305 325 335 312.4 387 293 409 282.9 427 272.4 467 245 475 238.6 483.9 230 495.1 218 505.7 206 515.5 194 526.9 178 535.9 162 550.1 132 563 100.3 566 94 570 88 582.6 72M81 412.5 107 403.2 133 395.5 159 389.4 191 383.8 203 381.1 223 376 239 371 389 311.7 411 301.6 429 291.4 441 282.8 461.1 266 479 253.1 489 244.8 498.1 236 509 224.5 530.4 200 540.6 186 548.9 172 556.2 156 572.3 118 577.2 108 582.3 100 602.9 72M81 431.8 95 426 111.4 420 130.4 414 149 408.8 169 404.1 223 394.5 237 391.1 249 387.5 263 382 299 365.9 377 336.3 397 328.3 421 317.2 441 306 449 300.6 455 295.8 469.3 282 501 254 521 233.2 538.6 214 547.1 204 555 192.9 562.6 180 569.4 166 587.7 124 595.3 110 603 98.3M81 452.6 97 445.1 113 438.7 169 420.8 179 418.6 195 416.8 237 410 249 407.4 259 404.4 271 399.2 294.6 386 305 381.1 377 355.7 407 343.9 435 330.7 461.8 316 470.6 310 474.8 306 490.7 288 517 259.9 542.1 232 557.4 216 562.4 210 571 197.3 579.7 182 603 132.7M81 475.8 103.1 464 115 458.5 125 455.1 147 449.7 155 447.2 165 443 181 434.8 187 432.5 191 431.8 213 430.8 233 428.6 255 425.2 269 421.6 275 419.1 281 415.8 303 400.6 311 395.9 317 393.7 363 379.6 401 366.1 413 361 427 354.4 457 338.5 473 328.7 482.1 322 490.9 314 502.1 302 553.2 242 570.3 224 577.1 216 583 208 589.5 198 603 173.7M81 501 127 476 163 471.9 171 470.6 179 467.2 197 456.4 207 452.5 237 445.1 269 439.4 279 436.6 288 432 311 417.9 321 412.9 331 409.1 363 398.8 409 382.4 423 376.2 447 363.2 467 351.4 483 340.8 497 330 510 318 525 301.9 563.1 256 587 229.3 595 219.4 603 208.2M81 535.1 99.4 518 103 515.3 117 507.7 137.9 500 151 493.2 155 492.2 181 490 189 488.1 197 484.4 225.8 468 245 459.1 257 455.1 273 451.8 279 450.2 313 436.4 353 423.6 391 407.6 421 396.5 435 389.3 465 371.5 485 358.6 503 345.3 521.4 330 531.8 320 542.8 308 576.5 268 603 237.4M81 593.4 85.3 582 94.5 568 121.2 536 133 523.6 137 522.1 145 521.1 151 519.8 165 512.5 171.8 510 179 508.8 183 510.5 185 510.6 197 505.7 231 486.7 255 470 259 467.7 265 465.3 291 456.7 303 453.5 317 451.5 343 450 351 448.3 357 446.3 369 440.4 401 422.2 425 412.1 437.5 406 458.7 394 481 380.5 495 371.4 508.1 362 527 347.6 541 335.4 550.6 326 561.7 314 603 266.4M134.2 614 135 600 132.3 582 131.1 560 128.7 550 128.8 548 129.8 546 132.2 544 136.2 542 141 540.6 155 539.1 158.3 540 165 543.9 177.2 548 187 553.3 189 553.6 191 552.5 192.5 550 193.5 546 194.6 538 196.8 532 207.2 520 211 517.4 241 501.5 245 498.3 253.3 490 261 483.2 271 476 278.1 472 285 469 291 467.1 297 465.8 305 465.2 311 465.4 319 466.6 341 472.9 347 473.9 351 473.8 355 473 363 469.6 375 462.5 395.1 448 407 440.3 483.5 398 506.7 384 527 370.7 545 356.3 560.7 342 578.3 324 603 296.8M167.9 582 169 581.2 171 581.4 173 582.3 180.1 588 184.1 592 185.5 594 187.1 598 186.9 602 185 604.8 183 606.1 181 606.5 177 606 173 603.7 171 601.5 169.6 598 169 590 167.1 584 167.9 582M237.3 614 238.3 608 237.7 604 225.5 578 223.3 572 223.2 570 226.4 566 224.4 562 225.9 548 234.2 532 236.8 528 249 516.3 257.9 504 267 495.1 273 490.1 281.3 484 289 479.4 295 477.6 301 477.5 307 478.4 315 480.8 335.2 490 343 493 349 494.5 353 494.4 357 492.7 367 486.5 387 478.5 395 473.6 406.4 464 422.1 452 439 440.7 454.2 432 503.8 406 525 393.8 540.1 384 553.3 374 567.2 362 584.2 346 603 327M262 614 261.9 600 256.7 588 251.3 578 250.5 574 253.7 558 261.6 530 269 515 273 510.4 275 509.4 277 510.8 279 511.4 291 513.7 293 513.2 295 511.9 298.1 508 298.9 506 299.2 500 301 499 303 498.6 311 499.1 333 502.9 355 504.6 358 504 363 499.2 365 497.9 369 496.5 377 496.1 397 496.8 401 496.4 405 495.3 409 493.1 413 489.9 418.5 484 431.7 468 437.8 462 445.3 456 453 451 461 446.6 493 432 511 423 529 413 544 404 557 395.1 568.8 386 585.3 372 603 356M275.1 614 270.2 600 268.1 590 268.1 576 269 570.3 271 564 273 560.8 279.2 554 279.6 550 278.8 544 279.7 536 279.6 530 281 527.4 283 526.7 305 526.5 309 525.8 317 522 329 518.4 342.4 512 359 509 361 508 365 504.6 367 504.1 375 506.4 405 512.4 409 512.8 413 511.8 425 506.2 433 503.7 437 500.7 438.6 498 442.5 486 445.5 480 450.3 474 455 469.9 461 466.1 467 463.2 493 454 503 449.8 521 440.4 565.9 412 579.2 402 603 383.1M291.1 614 290.9 608 291.7 600 289 580 290 572 291.2 568 293 565.4 300.1 558 303 556.2 307 555.5 315 556.4 318 556 321 554.7 321.8 554 320.1 550 319.6 546 320.2 544 324.4 536 327 533.8 329 533.1 333 532.7 336.9 534 339 536.5 341 533.1 345.8 520 347.7 518 352 516 357 515.1 361 516.1 365 519.9 369 518.1 373 519.5 387 519 405 521.6 411 521.8 437 520.3 463 515.2 465.5 514 468.9 510 470.7 506 471 504 470.8 502 469 498.7 463.7 496 461.9 494 462.3 492 464.1 490 468.9 488 481 485.2 495 480.7 505 476.8 513 472.7 523 465.9 555 440.9 603 408M330.1 540 331.3 540 331 540.7 330.1 540M328.6 542 329 541.3 329.6 542 329 542.5 328.6 542M306 614 303 605.2 302.2 600 302.9 596 309.6 572 309.4 566 310.1 564 311 563.3 313 562.9 319 564.2 323 563.6 327 561.6 331 558.6 341.5 548 346.5 542 350.2 536 354.1 526 355.9 524 359 523.4 361 524.5 363 526.4 365 527.4 367 526.7 369 525.2 371 525.7 372.4 528 375 528.7 403 530.3 431 528.8 449 526.5 465 521.7 485 507.6 489 506.3 518 500 525 497.1 531 491.8 549 470 559.5 460 567 453.9 577 446.8 603 431M332 614 330.9 606 331.1 580 330.5 574 330.9 570 339.1 556 341 554 355 542.9 361 540.3 367 537 389 533.7 395 534.3 399 534.3 403 535 411 535.1 441 538.9 443.6 538 459 530.3 465 526.2 469 525 475 520.2 483 515.8 515 516 529 517.3 533 517.1 537 516.1 540.3 514 543 510.9 553.5 492 559 484.6 565.1 478 573 471 581 465.2 591 459.1 603 453M355 614 352.8 608 351.3 600 351.1 580 351.6 576 353 573.2 355.6 570 357.5 566 359.9 564 367 560.6 369.6 558 370.1 556 369.1 548 371 545.7 391 542.2 407 541.7 415 540.9 441 544.3 451 545 453 544.7 463 540.4 473 533 479.1 530 486.8 524 491 523.3 517 524.6 533 529.5 547.9 540 550 542 555 548.4 557 549.6 559 548.7 560 546 559.6 542 557.6 532 557.2 526 557.6 520 559.4 512 563 504.4 569 496.9 579 488.4 591 480.9 603 475.8M477 543.9 477.5 544 477 543.9M603 547.2 595 554.5 591 557.2 587 559.1 581 559.8 575 558.8 573 557.9 571.4 556 569.9 534 572.1 520 572.5 518 573.7 516 577 514 585 513 587 512.3 598.4 506 603 504.8M377.5 614 372.4 608 369.3 602 366.1 586 365.8 582 373.2 564 377 557.7 379 555.5 383 553.3 387 552.2 409 550.8 421 552.5 431 553.1 449 556.4 453 556.4 465 550.6 469.2 548 470.9 546 470 542 470.3 540 471.6 538 473 536.8 475 535.8 477 535.7 481 537.8 483 537.6 487 534.4 491 533 499 533.9 517 534.7 533 539.8 541 543.9 549 549.5 555 555.2 561 558.6 575.1 564 585 565.6 589 566.6 593 568.5 599 573.5 603 578.4M603 610.4 599.6 614M439.7 614 435 612.2 431 611.4 413 610.3 403 608.6 397 606.9 393 605.2 387 601.1 384 598 381.3 594 379 588.6 377.8 584 377.4 578 378 570 378.7 566 379.8 564 381 563.2 383 562.7 387 562.8 399 561 405 561 439 563 443.3 564 453 567.8 457.2 568 462.5 566 464.8 564 466.7 558 468.3 556 479 554.2 483 552.1 486.2 548 488.4 542 489 541.1 491 540.3 499 542.1 521 545.3 539 549.2 547 551.9 549 553 551.9 556 554.6 560 556.4 564 558.1 566 577 578.1 589 582.5 603 594.5M505.7 614 501 611.4 495 609 487 607.5 481 607.9 467 612.4 461 612.6 457 611.8 451 608.9 439 599.6 435 597.1 431 595.3 423 593.6 407 593 403 592.2 399 590.6 395 588 391.7 584 390.1 580 389.8 576 391.3 572 392.7 570 395 568.2 397 567.6 401 568.3 415 573.2 423 575 437 576 449 577.7 455 577.6 459 577 465 575.4 471 572.8 479 567.8 497 557.7 515 552.8 519 552.3 543 554.4 547 555.2 548.7 556 550.8 560 553 566.5 555 569.4 557 571.2 585 589.6 597 596.4 598.6 598 599.4 600 599.3 604 597 608 591 614M462.5 588 465 587.2 467 587.2 470 588 472 590 472.2 592 471 594.6 467.5 598 463 600.1 459 600.2 456.4 598 455.8 596 456 594 457.1 592 462.5 588M531.8 614 515.3 598 509.8 592 506.2 586 505.4 582 505.8 578 507.6 570 508.5 568 511 565 513 563.7 515 563.3 531 562.4 533 562.5 539 564.2 543 563.2 545 563.7 547 566.2 550.2 572 552.2 574 559 578.1 581.4 594 589.4 598 592.1 600 593.3 602 593.4 604 592.8 606 591.6 608 586.2 614M563.1 614 559 612.7 553.7 610 545.1 604 540.1 598 537.3 592 537 588 538.2 586 541 585.1 545 584.7 547 584 550.4 582 553 581.6 555 581.9 557 583.4 565.3 590 571 595.6 575 598.8 577 599.8 585 601.8 587.7 604 588.1 606 587 608.7 581 612.1 574.9 614"/><path d="M107.4 72V613M219.3 72V613M331.2 72V613M443.1 72V613M555 72V613M81 125.4H603M81 245.7H603M81 366H603M81 486.4H603M81 606.8H603" fill="none" stroke="#000" stroke-opacity="0.4" stroke-width="0.6"/><path d="M284.9 211.9 286.8 221.3 287.7 232.6 286.8 244.0 292.5 251.5 290.6 259.1 288.7 266.6 294.3 272.3 305.7 274.2 317.0 272.3 324.5 264.7 330.0 260.9 335.1 260.0 344.5 263.8 354.0 264.7 359.6 266.6 367.2 269.4 374.7 270.4M288.7 266.6 279.2 272.3 273.6 279.8 281.1 285.5 279.2 294.9 267.9 298.7 256.6 298.7 247.2 304.3 232.1 308.1 224.5 311.9 215.1 315.7 207.5 315.7 200.0 323.2 196.0 326.0M256.6 298.7 254.7 311.9 256.6 323.2 252.8 340.0 250.0 341.3 250.9 352.6 250.9 365.8 250.9 375.3 250.9 384.7 247.2 392.3 234.0 396.0 218.9 401.7M250.9 375.3 256.6 377.2 271.7 379.1 281.1 384.7 294.3 388.5 305.7 386.6 313.2 394.2 317.0 401.7 322.6 405.5 330.0 409.2M330.0 409.2 331.0 414.9 322.6 416.8 317.0 428.1 305.7 435.7 298.1 447.0 296.2 460.0 294.0 463.0M305.7 274.2 313.2 281.7 311.3 289.2 313.2 304.3 315.1 315.7 320.8 327.0 330.0 330.8 338.9 334.5 348.3 340.0 357.7 344.0 370.9 345.1M378.5 227.0 376.6 238.3 380.4 245.8 386.0 249.6 389.8 248.7 387.9 257.2 380.4 260.9 376.6 268.5 374.7 272.3M374.7 270.4 376.6 279.8 384.2 283.6 393.6 287.4 395.5 294.9 393.6 304.3 391.7 311.9 386.0 317.5 384.2 327.0 382.3 340.0 384.2 330.0M395.5 294.9 404.9 294.0 414.3 296.8 421.9 293.0 433.2 289.2 442.6 285.5 450.0 283.6 455.0 281.0 467.4 281.9M467.4 281.9 469.4 279.9 477.5 275.8 489.7 273.8 493.8 263.6 501.9 257.5 508.0 249.4 506.0 241.3 499.9 235.2 501.9 229.1 508.0 221.0M467.4 281.9 471.0 298.3 479.1 303.7 481.8 311.8 492.5 319.8 500.6 330.6 503.2 341.3 516.7 344.0 524.7 349.4M524.7 349.4 511.3 357.4 497.9 362.8 476.4 365.5 476.4 378.9 475.0 392.6 478.7 401.1 475.0 433.6 471.3 445.5M484.4 438.7 489.8 449.5 500.6 454.9 497.9 462.9 511.3 462.9 522.0 465.6 532.8 468.3 543.5 465.6M471.3 445.5 484.4 438.7M471.3 445.5 460.0 452.0 449.5 465.6 449.5 481.7 452.2 495.1 457.6 508.6 460.3 519.3M384.2 330.0 380.4 339.4 370.9 345.1 365.3 354.5 361.5 362.1 357.7 369.6 354.0 375.3 348.3 379.1 344.5 386.6 340.8 397.9 335.1 405.5 333.2 411.1 335.1 418.7 346.4 420.6 357.7 422.5 367.2 422.5 376.6 424.3 386.0 430.0 391.7 435.7 399.2 441.3M376.6 343.2 386.0 347.0 401.1 348.9 410.6 356.4 416.2 367.7 423.8 373.4 429.4 379.1 425.7 386.6 421.9 394.2 425.7 405.5 420.0 411.1 410.6 414.9 404.9 418.7 399.2 424.3 395.5 428.1 386.0 430.0M421.9 394.2 433.0 400.0 441.0 405.0 450.0 409.0 462.0 405.0 475.0 408.0M386.0 420.0 387.9 431.3 399.2 437.0 399.2 448.3 403.0 455.8 418.1 459.6 418.1 469.1 425.7 474.7 437.0 470.0M355.8 420.0 357.7 427.5 354.0 437.0 348.3 444.5 348.3 457.7 344.5 469.1 348.0 476.0 344.0 486.0M322.6 416.8 335.1 418.7M386.0 514.3 382.3 503.0 376.6 495.5 378.5 489.8 380.4 480.4 384.2 472.8 391.7 465.3 399.2 457.7 404.9 454.0" fill="none" stroke="#111" stroke-opacity="0.8" stroke-width="0.5"/><path d="M366.3 225.3 360.3 240.3 362.2 255.4 359.2 277.0 346.9 284.9 337.2 297.5 344.3 302.9 353.6 305.3 360.7 313.1 371.1 327.0 394.6 333.0 412.9 342.6 431.2 339.6 443.5 352.3 451.3 367.3 474.8 392.6 478.5 401.0 474.8 433.5 471.1 445.5 468.5 452.2 453.5 461.2 437.5 469.0 428.2 474.4 403.6 483.4 387.1 486.4 376.0 484.6 366.6 486.4 359.9 491.3 363.3 507.5M202.5 280.0 200.3 290.9 196.2 298.7 189.5 313.1 206.2 330.6 202.5 345.0 207.0 357.1 210.0 361.9 223.0 363.1 241.7 369.1 246.2 378.1 259.6 386.6 272.6 401.6 283.5 410.0 295.0 419.7 305.1 429.3 311.4 434.7 328.6 446.1 330.1 458.2 338.7 465.4 339.4 481.0 343.5 490.7 342.0 496.1 331.2 501.5 313.3 509.9M202.3 280.1 204.0 269.7 201.9 265.7M80.0 301.0 93.4 303.7 106.9 311.8 109.5 327.9 104.2 341.3 96.1 354.7 98.8 365.5 112.2 373.5 131.0 373.5 139.1 378.9 147.1 395.0 157.9 408.4 171.3 421.9 182.0 429.5 190.1 434.9 187.4 445.7 184.7 453.7 192.8 459.1 203.5 469.8 211.6 475.2 222.3 476.5 227.7 483.2 241.1 483.2 249.2 480.6 251.9 469.8 243.8 453.7 241.1 440.3M80.0 561.1 96.1 555.7 109.5 546.3 125.7 550.4 139.1 555.7 152.5 563.8 163.2 571.9 176.7 577.2 192.8 588.8 210.0 590.0 240.0 588.0 270.0 586.0 294.6 598.7 320.0 602.0 350.0 605.0 380.0 613.0M503.2 180.8 522.0 182.1 535.5 187.5 548.9 190.2 559.6 188.8 557.0 206.3 554.3 214.3 557.0 222.4 554.3 238.5 559.6 243.9 548.9 249.2 546.2 260.0 560.0 270.0 575.6 279.5 605.0 271.5" fill="none" stroke="#1452d8" stroke-width="0.8" stroke-linejoin="round"/><path d="M127.9 72.7 130.8 77.8 132.2 82.2 135.2 85.8 139.5 86.5 141.7 89.4 142.4 93.8 139.5 98.1 135.2 97.4 130.8 98.9 132.2 101.0 135.2 105.4 138.1 109.0 135.2 110.5 130.8 108.3 125.0 106.8 129.3 115.5 133.7 124.2 138.1 131.5 141.7 135.9 142.4 141.7 146.8 144.6 146.0 150.4 142.4 153.3 142.4 159.1 139.5 160.5 143.9 161.3 149.7 162.7 158.4 164.2 167.1 162.0 174.3 159.8 180.3 159.4 186.4 162.4 192.5 161.4 195.6 153.3 190.5 145.2 189.5 137.0 190.5 130.9 194.5 126.9 202.7 121.8 209.8 125.2 213.9 124.4 208.8 119.8 209.8 115.7 218.9 113.7 229.1 115.7 237.2 116.7 241.3 113.7 247.4 115.7 250.4 119.8 255.5 115.7 259.6 106.5 263.6 96.4 267.7 86.2 271.8 78.1 275.8 72.0M272.8 72.0 273.8 84.2 270.8 96.4 271.8 111.6 277.9 102.5 284.0 84.2 289.0 72.0M209.8 167.5 208.8 177.7 212.8 181.7 221.0 184.8 225.0 181.7 225.0 175.6 218.9 172.6 211.8 167.5 209.8 167.5M81.0 124.0 95.0 124.0 106.1 122.8 113.4 118.4 119.2 117.0 125.0 118.4 129.3 121.3 127.9 125.7 127.2 130.1 129.3 134.4 130.8 140.2 130.1 144.6 127.9 147.5 126.4 150.4 123.5 148.9 117.7 151.1 114.8 156.2 116.3 160.5 120.6 162.7 123.5 166.3 120.6 170.2 112.5 172.2 106.4 176.3M81.0 132.0 88.0 134.0 93.0 132.0 96.0 137.0 90.0 142.0 84.0 143.0 81.0 147.0M96.0 126.0 102.0 126.0 105.0 134.0 108.0 140.0 103.0 145.0 98.0 140.0 96.0 132.0 96.0 126.0M80.0 172.2 88.1 173.2 94.2 172.2 100.3 175.2 102.4 180.3 110.5 180.3 112.5 184.4 116.6 183.4 126.7 184.4 128.8 187.4 120.6 188.5 114.5 190.5 110.5 196.6 106.4 210.8 102.4 204.7 98.3 200.6 92.2 206.7 88.1 208.8 82.0 204.7 80.0 200.6M80.0 247.4 88.1 244.3 94.2 238.2 102.4 236.2 109.5 235.6 111.5 238.2 115.6 230.1 122.7 223.0 124.7 218.9 130.8 218.5 141.0 218.9 148.1 225.0 151.1 229.1 159.3 231.1 163.3 236.2 171.4 238.2 175.5 235.2 175.5 241.3 181.6 243.3 185.7 247.4 193.0 246.0 200.0 244.5 210.0 243.3 220.0 240.3 221.2 240.3 240.9 234.9 258.8 230.1 271.9 219.9 288.3 210.2 303.2 201.8 314.4 200.0 331.2 197.0 343.9 195.8 346.9 198.2 357.3 204.8 361.4 209.6 353.6 207.2 347.2 199.4M347.2 199.4 346.5 202.4 349.1 209.6 351.7 214.5 352.5 219.3 356.6 221.7 366.3 225.3 374.1 224.7 384.9 222.9 392.7 215.7 401.7 207.2M401.7 207.2 403.2 200.6 404.7 190.4 411.4 189.2 418.9 188.6 423.7 188.0 437.5 175.3 443.1 167.5 446.1 155.5 447.2 143.5M447.7 136.4 446.0 123.6 444.7 110.0 443.6 93.5 445.0 80.0 449.4 72.0M401.7 207.2 409.5 204.8 418.9 203.6 413.3 208.4 409.5 215.7 402.1 220.5 392.7 224.7 383.4 233.7 376.0 228.9 366.3 225.3M423.7 188.0 431.9 191.6 443.1 188.6 452.4 179.6 456.2 167.5 452.4 155.5 447.9 142.9M175.5 245.3 175.5 255.5 181.6 259.6 191.8 260.6 199.9 263.6 201.9 265.7 206.0 259.6 208.0 251.4 211.1 245.3 210.0 243.3 201.9 249.4 193.8 252.5 185.7 253.5 181.6 249.4 179.6 245.3M148.1 208.8 153.2 204.7 159.3 205.7 161.3 209.8 167.4 210.8 169.4 214.9 165.4 216.9 169.4 223.0 172.5 227.1 169.4 229.1 161.3 227.1 155.2 229.1 150.1 225.0 148.1 216.9 148.1 208.8" fill="none" stroke="#111" stroke-width="0.8" stroke-linejoin="round"/><path d="M193.8 252.5 195.5 260.0 193.8 270.0 196.0 281.0 200.1 290.9 196.0 298.7 189.3 313.1 206.2 330.6 202.5 345.0 207.0 357.0 209.9 361.9 208.7 369.1 206.2 381.7 208.8 393.2 219.3 417.2 219.6 424.2M219.6 424.2 214.3 434.9 206.2 434.9 198.2 425.5 187.4 434.9 174.0 440.3 160.6 449.7 147.1 457.7 125.7 464.4 120.3 472.5 112.2 468.5 120.3 480.6 129.7 494.0 124.3 502.0 133.7 520.8 149.8 531.6 160.6 545.0 174.0 558.4 176.7 569.2M176.7 569.2 168.0 575.0 160.0 586.0 150.0 590.0 138.0 598.0 128.0 605.0 115.0 603.0 100.0 608.0 90.0 613.0M176.7 569.2 182.0 571.9 198.2 571.9 208.9 566.5 211.6 561.2 219.6 546.3 230.4 549.0 241.1 553.1 251.9 558.4 265.0 561.2 278.0 566.0 290.5 570.3M290.5 570.3 292.0 582.0 294.6 598.7 290.0 607.0 286.0 613.0M219.6 424.2 230.4 426.9 233.1 434.9 241.1 440.3 250.0 440.3 263.4 445.7 274.2 459.1 279.5 472.5 287.6 477.9 290.3 461.8 303.7 460.4 319.8 467.1 322.5 472.5 317.1 477.9 322.5 485.9 341.3 491.3 352.0 491.3 354.7 496.7 362.8 507.4M362.8 507.4 352.0 518.2 338.6 528.9 330.6 545.0 319.8 555.7 303.7 561.1 293.0 563.8 290.5 570.3M362.8 507.4 368.1 512.8 384.3 510.1 389.6 518.2 395.0 526.2 397.7 531.6 405.7 534.3 416.5 537.0 420.0 527.4 436.1 522.0 449.5 519.3 460.3 519.3 473.7 524.7 484.4 532.7 497.9 538.1 511.3 543.5M294.6 598.7 310.0 604.0 330.0 600.0 350.0 596.0 370.0 590.0 395.0 583.0 420.0 573.0 436.1 573.0 454.9 578.4 471.0 586.4M511.3 543.5 500.6 551.5 492.5 567.6 487.1 573.0 484.4 583.7 471.0 586.4M471.0 586.4 460.3 594.5 452.2 605.2 446.9 613.0M484.4 583.7 505.9 597.2 514.0 602.5 527.4 602.5 540.8 607.9 559.6 602.5 580.0 606.0 598.0 606.0M511.3 543.5 508.6 535.4 508.6 524.7 505.9 513.9 511.3 505.9 522.0 489.8 532.8 476.3 543.5 465.6 557.0 460.2 559.6 449.5 554.3 438.7 559.6 436.1 554.3 428.0 548.9 416.5 546.2 400.4 542.2 387.0M542.2 387.0 543.5 365.5 538.2 357.4 524.7 349.4 527.4 344.0 535.5 333.2 548.9 322.5 552.9 317.1 551.6 295.6 546.2 282.2 540.8 266.1 538.2 250.0M542.2 387.0 554.3 389.6 570.4 376.2 586.5 370.8 605.0 368.1M384.5 223.0 398.3 218.9 420.6 221.0 445.0 225.0 471.4 225.0 493.8 224.0 508.6 222.4M454.9 171.4 465.6 175.4 484.4 182.1 503.2 182.1 511.3 192.8 508.6 206.3 508.6 222.4M508.6 222.4 514.0 221.0 528.0 226.0 538.2 230.4 540.8 240.0 538.2 250.0M538.2 250.0 553.6 248.0 570.4 249.2 581.1 243.9 594.5 235.8 605.0 233.1M445.5 120.3 463.0 109.6 484.4 100.2 500.6 101.5 522.0 104.2 535.5 102.9 554.3 105.6 565.0 106.9 581.1 100.2 591.9 112.3 605.0 115.0" fill="none" stroke="#111" stroke-width="0.8" stroke-linejoin="round"/><path d="M595.2 614 C595.2 605 598 599.6 603.5 599.6 V614 Z" fill="#e870c0" stroke="#111" stroke-width="2.4"/><g font-size="7" fill="#111" text-anchor="middle"><text transform="translate(93 81) rotate(-22)" y="2.4">980</text><text transform="translate(192 82) rotate(-10)" y="2.4">981</text><text transform="translate(192 99.5) rotate(-10)" y="2.4">982</text><text transform="translate(192 116.5) rotate(-12)" y="2.4">983</text><text transform="translate(192 134) rotate(-12)" y="2.4">984</text><text transform="translate(193.8 146.5) rotate(-13)" y="2.4">985</text><text transform="translate(193.8 160) rotate(-14)" y="2.4">986</text><text transform="translate(193.8 175) rotate(-16)" y="2.4">987</text><text transform="translate(193.8 190) rotate(-17)" y="2.4">988</text><text transform="translate(193.8 205) rotate(-17)" y="2.4">989</text><text transform="translate(193.8 219) rotate(-18)" y="2.4">990</text><text transform="translate(193.8 235) rotate(-19)" y="2.4">991</text><text transform="translate(192.8 252) rotate(-17)" y="2.4">992</text><text transform="translate(189.6 266.9) rotate(-16)" y="2.4">993</text><text transform="translate(190 283) rotate(-19)" y="2.4">994</text><text transform="translate(191.4 303) rotate(-23)" y="2.4">995</text><text transform="translate(191.4 327) rotate(-22)" y="2.4">996</text><text transform="translate(186 350) rotate(-14)" y="2.4">997</text><text transform="translate(186 366.7) rotate(-11)" y="2.4">998</text><text transform="translate(191.4 383.7) rotate(-11)" y="2.4">999</text><text transform="translate(195 399.4) rotate(-10)" y="2.4">1000</text><text transform="translate(192.8 417.2) rotate(-7)" y="2.4">1001</text><text transform="translate(189 432) rotate(-11)" y="2.4">1002</text><text transform="translate(171 470.6) rotate(-16)" y="2.4">1003</text><text transform="translate(185.2 489.3) rotate(-13)" y="2.4">1004</text><text transform="translate(150.5 520) rotate(-19)" y="2.4">1005</text><text transform="translate(172 546) rotate(19)" y="2.4">1006</text><text transform="translate(227 565.7) rotate(-35)" y="2.4">1007</text><text transform="translate(317.5 82) rotate(-31)" y="2.4">983</text><text transform="translate(316.5 100) rotate(-25)" y="2.4">984</text><text transform="translate(316.5 115.7) rotate(-23)" y="2.4">985</text><text transform="translate(317.5 130.6) rotate(-21)" y="2.4">986</text><text transform="translate(316.5 146.5) rotate(-19)" y="2.4">987</text><text transform="translate(315.5 161.4) rotate(-16)" y="2.4">988</text><text transform="translate(317.5 175.7) rotate(-16)" y="2.4">989</text><text transform="translate(318.5 190.6) rotate(-14)" y="2.4">990</text><text transform="translate(317.5 204.5) rotate(-11)" y="2.4">991</text><text transform="translate(316 217.5) rotate(-11)" y="2.4">992</text><text transform="translate(312 231) rotate(-9)" y="2.4">993</text><text transform="translate(310.5 244) rotate(-11)" y="2.4">994</text><text transform="translate(312.7 260) rotate(-13)" y="2.4">995</text><text transform="translate(308.7 279) rotate(-17)" y="2.4">996</text><text transform="translate(306 324.6) rotate(-22)" y="2.4">998</text><text transform="translate(319.4 358) rotate(-21)" y="2.4">1000</text><text transform="translate(316.8 377) rotate(-19)" y="2.4">1001</text><text transform="translate(311.4 395.7) rotate(-25)" y="2.4">1002</text><text transform="translate(450.9 106) rotate(-54)" y="2.4">991</text><text transform="translate(453.6 125) rotate(-53)" y="2.4">992</text><text transform="translate(455 147) rotate(-54)" y="2.4">993</text><text transform="translate(457.6 170.6) rotate(-53)" y="2.4">994</text><text transform="translate(460 191.5) rotate(-45)" y="2.4">995</text><text transform="translate(461.6 209.5) rotate(-46)" y="2.4">996</text><text transform="translate(459 235) rotate(-38)" y="2.4">997</text><text transform="translate(459.7 249.8) rotate(-34)" y="2.4">998</text><text transform="translate(462.4 265) rotate(-37)" y="2.4">999</text><text transform="translate(465.6 285.5) rotate(-44)" y="2.4">1000</text><text transform="translate(471 309.7) rotate(-40)" y="2.4">1001</text><text transform="translate(467 332.5) rotate(-32)" y="2.4">1002</text><text transform="translate(432 371.4) rotate(-28)" y="2.4">1003</text><text transform="translate(532.8 104.8) rotate(-66)" y="2.4">996</text><text transform="translate(534 133) rotate(-63)" y="2.4">997</text><text transform="translate(540.8 151.8) rotate(-64)" y="2.4">998</text><text transform="translate(548.4 173) rotate(-63)" y="2.4">999</text><text transform="translate(556.4 190.7) rotate(-58)" y="2.4">1000</text><text transform="translate(559.6 213.5) rotate(-49)" y="2.4">1001</text><text transform="translate(557 237.7) rotate(-47)" y="2.4">1002</text><text transform="translate(535.5 289.5) rotate(-50)" y="2.4">1003</text><text transform="translate(530 321.8) rotate(-45)" y="2.4">1004</text><text transform="translate(515 356.7) rotate(-37)" y="2.4">1005</text><text transform="translate(526 371.4) rotate(-35)" y="2.4">1006</text><text transform="translate(512.6 401) rotate(-30)" y="2.4">1007</text><text transform="translate(499.2 429) rotate(-26)" y="2.4">1008</text><text transform="translate(566.3 411.7) rotate(-35)" y="2.4">1009</text><text transform="translate(280.5 436) rotate(-23)" y="2.4">1003</text><text transform="translate(276.5 451) rotate(30)" y="2.4">1004</text><text transform="translate(260.4 467) rotate(-50)" y="2.4">1005</text><text transform="translate(265.3 480) rotate(-80)" y="2.4">1006</text><text transform="translate(292.5 478) rotate(-14)" y="2.4">1007</text><text transform="translate(283.4 512) rotate(12)" y="2.4">1008</text><text transform="translate(303 526.5) rotate(-3)" y="2.4">1009</text><text transform="translate(346.4 519) rotate(-15)" y="2.4">1010</text><text transform="translate(360.3 523.5) rotate(0)" y="2.4">1011</text><text transform="translate(389 533.5) rotate(20)" y="2.4">1012</text><text transform="translate(416 540.8) rotate(1)" y="2.4">1013</text><text transform="translate(429.5 553) rotate(7)" y="2.4">1014</text><text transform="translate(413.7 436.4) rotate(-30)" y="2.4">1006</text><text transform="translate(402.4 421.5) rotate(-25)" y="2.4">1005</text><text transform="translate(423 395.7) rotate(-24)" y="2.4">1004</text><text transform="translate(402.7 467) rotate(-10)" y="2.4">1007</text><text transform="translate(358.5 504) rotate(-25)" y="2.4">1008</text><text transform="translate(425.5 506) rotate(-20)" y="2.4">1009</text><text transform="translate(461.6 494.4) rotate(-55)" y="2.4">1010</text><text transform="translate(484.4 507.9) rotate(-27)" y="2.4">1011</text><text transform="translate(512.6 516) rotate(2)" y="2.4">1012</text><text transform="translate(532.8 529.4) rotate(25)" y="2.4">1013</text><text transform="translate(539.5 542.8) rotate(30)" y="2.4">1014</text><text transform="translate(506 542.8) rotate(8)" y="2.4">1015</text><text transform="translate(549 556) rotate(43)" y="2.4">1016</text><text transform="translate(547.5 567) rotate(47)" y="2.4">1017</text><text transform="translate(570.4 595) rotate(41)" y="2.4">1018</text><text transform="translate(440 563) rotate(9)" y="2.4">1015</text></g><g font-size="6.3" font-weight="700" fill="#000"><circle cx="262.4" cy="233.5" r="2.5" fill="#e8130f"/><text x="267.2" y="232.6">Koszalin</text><text x="267.2" y="240.1">992 hPa</text><circle cx="355.7" cy="224.8" r="2.5" fill="#e8130f"/><text x="328.5" y="223.9">Gdańsk</text><text x="328.5" y="231.4">993 hPa</text><circle cx="203.5" cy="280.3" r="2.5" fill="#e8130f"/><text x="208.3" y="279.4">Szczecin</text><text x="208.3" y="286.9">994 hPa</text><circle cx="229.0" cy="321.9" r="2.5" fill="#e8130f"/><text x="233.8" y="321.0">Gorzów Wielkopolski</text><text x="233.8" y="328.5">997 hPa</text><circle cx="238.4" cy="370.8" r="2.5" fill="#e8130f"/><text x="243.2" y="369.9">Zielona Góra</text><text x="243.2" y="377.4">999 hPa</text><circle cx="332.3" cy="299.6" r="2.5" fill="#e8130f"/><text x="295" y="298.7">Bydgoszcz</text><text x="295" y="306.2">997 hPa</text><circle cx="353.8" cy="305.0" r="2.5" fill="#e8130f"/><text x="358.6" y="304.1">Toruń</text><text x="358.6" y="311.6">998 hPa</text><circle cx="291.3" cy="341.5" r="2.5" fill="#e8130f"/><text x="296.1" y="340.6">Poznań</text><text x="296.1" y="348.1">999 hPa</text><circle cx="421.5" cy="259.3" r="2.5" fill="#e8130f"/><text x="426.3" y="258.4">Olsztyn</text><text x="426.3" y="265.9">997 hPa</text><circle cx="515.3" cy="238.2" r="2.5" fill="#e8130f"/><text x="520.1" y="237.3">Suwałki</text><text x="520.1" y="244.8">1000 hPa</text><circle cx="524.7" cy="297.6" r="2.5" fill="#e8130f"/><text x="529.5" y="296.7">Białystok</text><text x="529.5" y="304.2">1003 hPa</text><circle cx="443.6" cy="351.8" r="2.5" fill="#e8130f"/><text x="448.4" y="350.9">Warszawa</text><text x="448.4" y="358.4">1002 hPa</text><circle cx="383.4" cy="383.0" r="2.5" fill="#e8130f"/><text x="388.2" y="382.1">Łódź</text><text x="388.2" y="389.6">1003 hPa</text><circle cx="295.8" cy="419.4" r="2.5" fill="#e8130f"/><text x="265" y="418.5">Wrocław</text><text x="265" y="426.0">1003 hPa</text><circle cx="330.2" cy="449.5" r="2.5" fill="#e8130f"/><text x="335" y="448.6">Opole</text><text x="335" y="456.1">1005 hPa</text><circle cx="369.7" cy="472.4" r="2.5" fill="#e8130f"/><text x="337.5" y="471.5">Katowice</text><text x="337.5" y="479.0">1007 hPa</text><circle cx="403.5" cy="483.6" r="2.5" fill="#e8130f"/><text x="408.3" y="482.7">Kraków</text><text x="408.3" y="490.2">1007 hPa</text><circle cx="431.3" cy="438.0" r="2.5" fill="#e8130f"/><text x="436.1" y="437.1">Kielce</text><text x="436.1" y="444.6">1007 hPa</text><circle cx="495.2" cy="413.6" r="2.5" fill="#e8130f"/><text x="500" y="412.7">Lublin</text><text x="500" y="420.2">1007 hPa</text><circle cx="481.8" cy="480.2" r="2.5" fill="#e8130f"/><text x="486.6" y="479.3">Rzeszów</text><text x="486.6" y="486.8">1010 hPa</text><circle cx="404.0" cy="530.0" r="2.5" fill="#e8130f"/><text x="408.8" y="529.1">Zakopane</text><text x="408.8" y="536.6">1011 hPa</text></g><path d="M601.4 112V597" stroke="#fff" stroke-opacity="0.75" stroke-width="0.9" stroke-dasharray="1.6 2.2"/></g>
<rect x="363.9" y="72.8" width="238.4" height="19.9" fill="#fff" stroke="#333" stroke-width="0.7"/><text x="368.1" y="86.5" font-size="12.8" fill="#000">Poniedzialek, 13 marca 2023 15:00 UTC</text><rect x="81.8" y="599.2" width="318.3" height="13.6" fill="#fff" stroke="#333" stroke-width="0.7"/><text x="85.8" y="608.5" font-size="8.6" fill="#111" xml:space="preserve">Model: COSMO 5.05  Grid dx/dy: 2.8km  Input data: ICON  Start: 06z, 13.03.2023</text>
<rect x="81" y="72" width="522" height="541" fill="none" stroke="#333" stroke-width="0.8"/>
<path d="M107.4 613v9.5M219.3 613v9.5M331.2 613v9.5M443.1 613v9.5M555 613v9.5M81 125.4h-9M81 245.7h-9M81 366h-9M81 486.4h-9M81 606.8h-9" stroke="#666" stroke-width="0.8"/><g font-size="10" fill="#111"><text x="107.4" y="633" text-anchor="middle">12E</text><text x="219.3" y="633" text-anchor="middle">15E</text><text x="331.2" y="633" text-anchor="middle">18E</text><text x="443.1" y="633" text-anchor="middle">21E</text><text x="555" y="633" text-anchor="middle">24E</text><text x="69.6" y="129.0" text-anchor="end">56N</text><text x="69.6" y="249.3" text-anchor="end">54N</text><text x="69.6" y="369.6" text-anchor="end">52N</text><text x="69.6" y="490.0" text-anchor="end">50N</text><text x="69.6" y="610.4" text-anchor="end">48N</text></g>
<rect x="607" y="603.7" width="13" height="5.63" fill="#e868b8"/><rect x="607" y="598.3" width="13" height="5.63" fill="#e060b0"/><rect x="607" y="593" width="13" height="5.63" fill="#d050b0"/><rect x="607" y="587.7" width="13" height="5.63" fill="#c040a8"/><rect x="607" y="582.4" width="13" height="5.63" fill="#b030a0"/><rect x="607" y="577" width="13" height="5.63" fill="#a01898"/><rect x="607" y="571.7" width="13" height="5.63" fill="#900090"/><rect x="607" y="566.4" width="13" height="5.63" fill="#800088"/><rect x="607" y="561" width="13" height="5.63" fill="#700090"/><rect x="607" y="555.7" width="13" height="5.63" fill="#5a0098"/><rect x="607" y="550.4" width="13" height="5.63" fill="#600090"/><rect x="607" y="545" width="13" height="5.63" fill="#500090"/><rect x="607" y="539.7" width="13" height="5.63" fill="#400098"/><rect x="607" y="534.4" width="13" height="5.63" fill="#3000a0"/><rect x="607" y="529" width="13" height="5.63" fill="#2000a8"/><rect x="607" y="523.7" width="13" height="5.63" fill="#1000a8"/><rect x="607" y="518.4" width="13" height="5.63" fill="#0808b0"/><rect x="607" y="513.1" width="13" height="5.63" fill="#0810b8"/><rect x="607" y="507.7" width="13" height="5.63" fill="#0810c0"/><rect x="607" y="502.4" width="13" height="5.63" fill="#0820c8"/><rect x="607" y="497.1" width="13" height="5.63" fill="#0838d0"/><rect x="607" y="491.7" width="13" height="5.63" fill="#084ad8"/><rect x="607" y="486.4" width="13" height="5.63" fill="#085ae0"/><rect x="607" y="481.1" width="13" height="5.63" fill="#086ae8"/><rect x="607" y="475.8" width="13" height="5.63" fill="#0878ec"/><rect x="607" y="470.4" width="13" height="5.63" fill="#0886f0"/><rect x="607" y="465.1" width="13" height="5.63" fill="#0892f4"/><rect x="607" y="459.8" width="13" height="5.63" fill="#08a0f2"/><rect x="607" y="454.4" width="13" height="5.63" fill="#0cb0f0"/><rect x="607" y="449.1" width="13" height="5.63" fill="#08c4e8"/><rect x="607" y="443.8" width="13" height="5.63" fill="#08d0e4"/><rect x="607" y="438.4" width="13" height="5.63" fill="#08d8e0"/><rect x="607" y="433.1" width="13" height="5.63" fill="#08e0e0"/><rect x="607" y="427.8" width="13" height="5.63" fill="#08e6e0"/><rect x="607" y="422.4" width="13" height="5.63" fill="#08eae0"/><rect x="607" y="417.1" width="13" height="5.63" fill="#08e8d4"/><rect x="607" y="411.8" width="13" height="5.63" fill="#08e8c8"/><rect x="607" y="406.5" width="13" height="5.63" fill="#08e8b8"/><rect x="607" y="401.1" width="13" height="5.63" fill="#08e8a8"/><rect x="607" y="395.8" width="13" height="5.63" fill="#08e088"/><rect x="607" y="390.5" width="13" height="5.63" fill="#08d070"/><rect x="607" y="385.1" width="13" height="5.63" fill="#08c86c"/><rect x="607" y="379.8" width="13" height="5.63" fill="#0cc068"/><rect x="607" y="374.5" width="13" height="5.63" fill="#0ab862"/><rect x="607" y="369.1" width="13" height="5.63" fill="#0aac5c"/><rect x="607" y="363.8" width="13" height="5.63" fill="#0aa058"/><rect x="607" y="358.5" width="13" height="5.63" fill="#0a9850"/><rect x="607" y="353.2" width="13" height="5.63" fill="#0a9048"/><rect x="607" y="347.8" width="13" height="5.63" fill="#0a8c38"/><rect x="607" y="342.5" width="13" height="5.63" fill="#0a8a24"/><rect x="607" y="337.2" width="13" height="5.63" fill="#1a9010"/><rect x="607" y="331.8" width="13" height="5.63" fill="#30a010"/><rect x="607" y="326.5" width="13" height="5.63" fill="#38a80c"/><rect x="607" y="321.2" width="13" height="5.63" fill="#44b00a"/><rect x="607" y="315.9" width="13" height="5.63" fill="#50b808"/><rect x="607" y="310.5" width="13" height="5.63" fill="#62c008"/><rect x="607" y="305.2" width="13" height="5.63" fill="#78cc08"/><rect x="607" y="299.9" width="13" height="5.63" fill="#94da08"/><rect x="607" y="294.5" width="13" height="5.63" fill="#a8e010"/><rect x="607" y="289.2" width="13" height="5.63" fill="#c0e010"/><rect x="607" y="283.9" width="13" height="5.63" fill="#c0e010"/><rect x="607" y="278.5" width="13" height="5.63" fill="#d8e010"/><rect x="607" y="273.2" width="13" height="5.63" fill="#e0e010"/><rect x="607" y="267.9" width="13" height="5.63" fill="#e8d810"/><rect x="607" y="262.6" width="13" height="5.63" fill="#e8c810"/><rect x="607" y="257.2" width="13" height="5.63" fill="#e8b818"/><rect x="607" y="251.9" width="13" height="5.63" fill="#e8b018"/><rect x="607" y="246.6" width="13" height="5.63" fill="#f0a018"/><rect x="607" y="241.2" width="13" height="5.63" fill="#f09018"/><rect x="607" y="235.9" width="13" height="5.63" fill="#f08018"/><rect x="607" y="230.6" width="13" height="5.63" fill="#f07010"/><rect x="607" y="225.2" width="13" height="5.63" fill="#e86010"/><rect x="607" y="219.9" width="13" height="5.63" fill="#e05010"/><rect x="607" y="214.6" width="13" height="5.63" fill="#e04010"/><rect x="607" y="209.2" width="13" height="5.63" fill="#e03010"/><rect x="607" y="203.9" width="13" height="5.63" fill="#e02010"/><rect x="607" y="198.6" width="13" height="5.63" fill="#e00808"/><rect x="607" y="193.3" width="13" height="5.63" fill="#d80808"/><rect x="607" y="187.9" width="13" height="5.63" fill="#c80808"/><rect x="607" y="182.6" width="13" height="5.63" fill="#b80808"/><rect x="607" y="177.3" width="13" height="5.63" fill="#a80808"/><rect x="607" y="171.9" width="13" height="5.63" fill="#980808"/><rect x="607" y="166.6" width="13" height="5.63" fill="#880808"/><rect x="607" y="161.3" width="13" height="5.63" fill="#780808"/><rect x="607" y="155.9" width="13" height="5.63" fill="#701818"/><rect x="607" y="150.6" width="13" height="5.63" fill="#782828"/><rect x="607" y="145.3" width="13" height="5.63" fill="#803030"/><rect x="607" y="140" width="13" height="5.63" fill="#883838"/><rect x="607" y="134.6" width="13" height="5.63" fill="#904040"/><rect x="607" y="129.3" width="13" height="5.63" fill="#904848"/><rect x="607" y="124" width="13" height="5.63" fill="#904848"/><rect x="607" y="118.6" width="13" height="5.63" fill="#905050"/><rect x="607" y="113.3" width="13" height="5.63" fill="#985858"/><rect x="607" y="108" width="13" height="5.63" fill="#986868"/><rect x="607" y="102.7" width="13" height="5.63" fill="#a07070"/><rect x="607" y="97.3" width="13" height="5.63" fill="#a07878"/><rect x="607" y="92" width="13" height="5.63" fill="#a88080"/><rect x="607" y="86.7" width="13" height="5.63" fill="#b08888"/><rect x="607" y="81.3" width="13" height="5.63" fill="#b89898"/><rect x="607" y="76" width="13" height="5.63" fill="#c0a0a0"/><path d="M607 81.33h13M607 86.66h13M607 91.99h13M607 97.32h13M607 102.65h13M607 107.98h13M607 113.31h13M607 118.64h13M607 123.97h13M607 129.30h13M607 134.63h13M607 139.96h13M607 145.29h13M607 150.62h13M607 155.95h13M607 161.28h13M607 166.61h13M607 171.94h13M607 177.27h13M607 182.60h13M607 187.93h13M607 193.26h13M607 198.59h13M607 203.92h13M607 209.25h13M607 214.58h13M607 219.91h13M607 225.24h13M607 230.57h13M607 235.90h13M607 241.23h13M607 246.56h13M607 251.89h13M607 257.22h13M607 262.55h13M607 267.88h13M607 273.21h13M607 278.54h13M607 283.87h13M607 289.20h13M607 294.53h13M607 299.86h13M607 305.19h13M607 310.52h13M607 315.85h13M607 321.18h13M607 326.51h13M607 331.84h13M607 337.17h13M607 342.50h13M607 347.83h13M607 353.16h13M607 358.49h13M607 363.82h13M607 369.15h13M607 374.48h13M607 379.81h13M607 385.14h13M607 390.47h13M607 395.80h13M607 401.13h13M607 406.46h13M607 411.79h13M607 417.12h13M607 422.45h13M607 427.78h13M607 433.11h13M607 438.44h13M607 443.77h13M607 449.10h13M607 454.43h13M607 459.76h13M607 465.09h13M607 470.42h13M607 475.75h13M607 481.08h13M607 486.41h13M607 491.74h13M607 497.07h13M607 502.40h13M607 507.73h13M607 513.06h13M607 518.39h13M607 523.72h13M607 529.05h13M607 534.38h13M607 539.71h13M607 545.04h13M607 550.37h13M607 555.70h13M607 561.03h13M607 566.36h13M607 571.69h13M607 577.02h13M607 582.35h13M607 587.68h13M607 593.01h13M607 598.34h13M607 603.67h13" stroke="#000" stroke-opacity="0.4" stroke-width="0.55"/><rect x="607" y="76" width="13" height="533" fill="none" stroke="#222" stroke-width="0.8"/><text transform="translate(636.8 80.3) scale(0.89 1)" font-size="12" text-anchor="middle">1060</text><text transform="translate(636.8 133.6) scale(0.89 1)" font-size="12" text-anchor="middle">1050</text><text transform="translate(636.8 186.9) scale(0.89 1)" font-size="12" text-anchor="middle">1040</text><text transform="translate(636.8 240.2) scale(0.89 1)" font-size="12" text-anchor="middle">1030</text><text transform="translate(636.8 293.5) scale(0.89 1)" font-size="12" text-anchor="middle">1020</text><text transform="translate(636.8 346.8) scale(0.89 1)" font-size="12" text-anchor="middle">1010</text><text transform="translate(636.8 400.1) scale(0.89 1)" font-size="12" text-anchor="middle">1000</text><text transform="translate(636.8 453.4) scale(0.89 1)" font-size="12" text-anchor="middle">990</text><text transform="translate(636.8 506.7) scale(0.89 1)" font-size="12" text-anchor="middle">980</text><text transform="translate(636.8 560.0) scale(0.89 1)" font-size="12" text-anchor="middle">970</text><text transform="translate(636.8 613.3) scale(0.89 1)" font-size="12" text-anchor="middle">960</text>
</svg>
</body></html>
